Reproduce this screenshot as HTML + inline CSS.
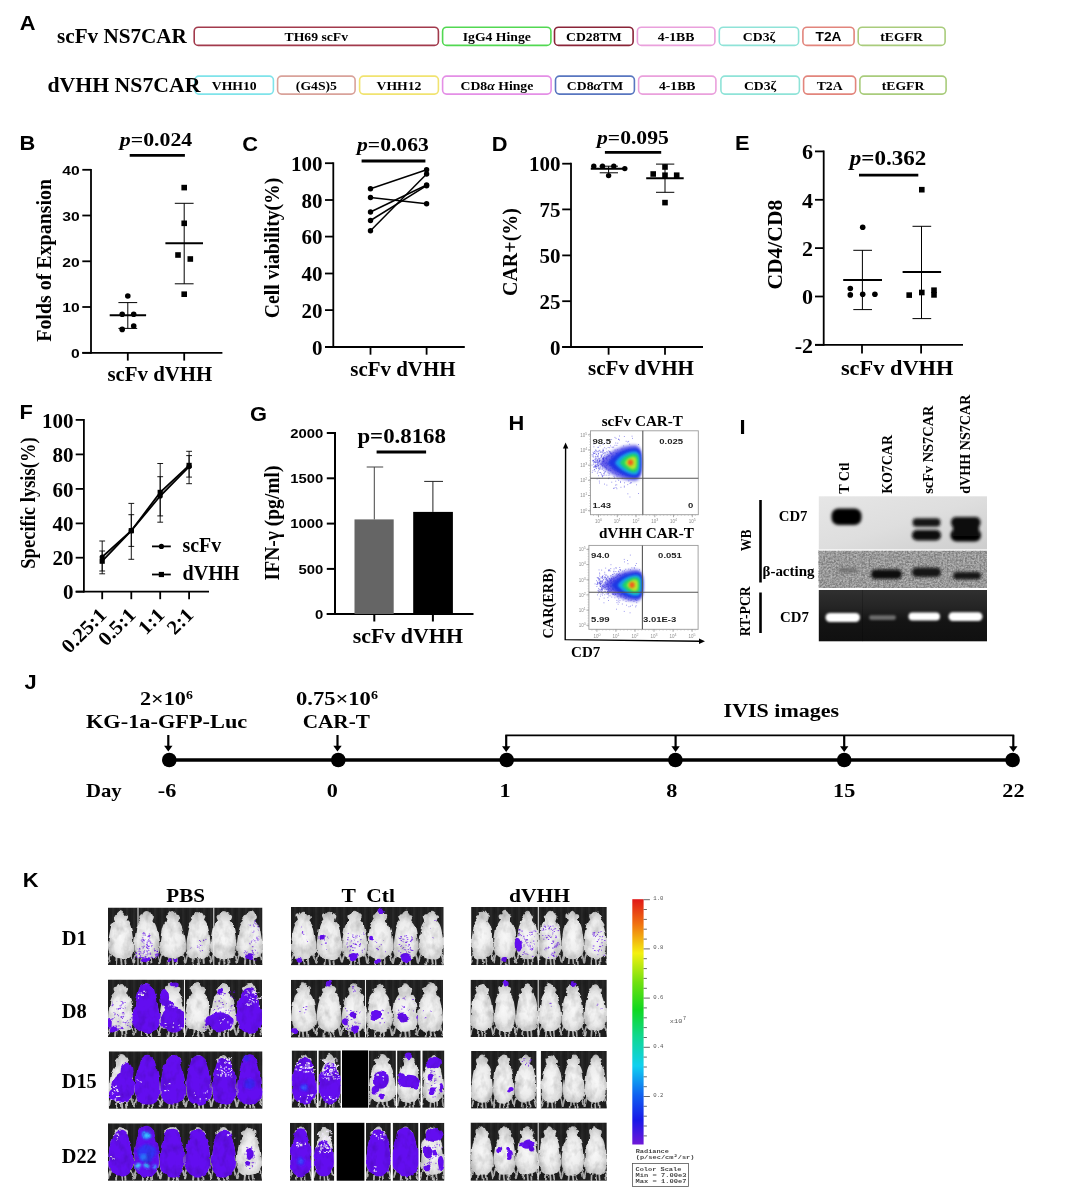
<!DOCTYPE html>
<html lang="en"><head><meta charset="utf-8"><title>Figure</title>
<style>html,body{margin:0;padding:0;background:#fff}svg{display:block}.se{font-family:"Liberation Serif",serif;font-weight:bold}.sa{font-family:"Liberation Sans",sans-serif;font-weight:bold}.mo{font-family:"Liberation Mono",monospace;font-weight:bold}.n{font-weight:normal}</style></head><body>
<svg width="1080" height="1193" viewBox="0 0 1080 1193">
<rect width="1080" height="1193" fill="#fff"/>
<defs>
<filter id="b1" x="-20%" y="-20%" width="140%" height="140%"><feGaussianBlur stdDeviation="0.8"/></filter>
<filter id="b2" x="-30%" y="-30%" width="160%" height="160%"><feGaussianBlur stdDeviation="1.6"/></filter>
<filter id="b3" x="-30%" y="-30%" width="160%" height="160%"><feGaussianBlur stdDeviation="2.6"/></filter>
<filter id="b05" x="-20%" y="-20%" width="140%" height="140%"><feGaussianBlur stdDeviation="0.5"/></filter>
<linearGradient id="cbar" x1="0" y1="0" x2="0" y2="1"><stop offset="0" stop-color="#e01818"/><stop offset="0.10" stop-color="#f07010"/><stop offset="0.22" stop-color="#f4f010"/><stop offset="0.34" stop-color="#70e010"/><stop offset="0.45" stop-color="#10d820"/><stop offset="0.56" stop-color="#10d890"/><stop offset="0.68" stop-color="#10d0f0"/><stop offset="0.80" stop-color="#1060f0"/><stop offset="0.90" stop-color="#1818e8"/><stop offset="1" stop-color="#7018d8"/></linearGradient>
<radialGradient id="mg" cx="0.5" cy="0.55" r="0.62"><stop offset="0" stop-color="#f8f8f8"/><stop offset="0.5" stop-color="#ececec"/><stop offset="0.82" stop-color="#cdcdcd"/><stop offset="1" stop-color="#909090"/></radialGradient>
<g id="mouse"><path d="M3.5 46 C2 49 1 52 0.5 56 M22.5 46 C24 49 25 52 25.5 56 M9 50 L8.3 57.5 M17 50 L17.7 57.5 M13 51 L13.8 58" stroke="#b4b4b4" stroke-width="1.9" fill="none" stroke-linecap="round"/><path d="M13 3.2 C15 3.2 16.6 5 17.4 7 C19.4 6.6 20.8 8.2 20 10.2 C19.6 11.4 19 12.2 18.8 13.2 C21 15 22.8 18.5 23.6 23 C24.6 29 26.1 36 25.7 42 C25.1 47 22 50.6 18.5 51.8 C15.5 52.8 10.5 52.8 7.5 51.8 C4 50.6 0.9 47 0.3 42 C-0.1 36 1.4 29 2.4 23 C3.2 18.5 5 15 7.2 13.2 C7 12.2 6.4 11.4 6 10.2 C5.2 8.2 6.6 6.6 8.6 7 C9.4 5 11 3.2 13 3.2 Z" fill="url(#mg)"/></g>
<filter id="grain" x="0" y="0" width="100%" height="100%"><feTurbulence type="fractalNoise" baseFrequency="0.55" numOctaves="2" seed="3"/><feColorMatrix type="matrix" values="0 0 0 0 0  0 0 0 0 0  0 0 0 0 0  1.6 1.6 0 0 -1.1"/></filter>
<pattern id="cage" width="7" height="60" patternUnits="userSpaceOnUse"><rect width="7" height="60" fill="#202020"/><rect x="0" width="2.2" height="60" fill="#282828"/><rect x="3.6" width="1.2" height="60" fill="#1c1c1c"/></pattern>
<filter id="rough" x="-2%" y="-5%" width="104%" height="110%"><feTurbulence type="fractalNoise" baseFrequency="0.11" numOctaves="2" seed="5" result="t"/><feDisplacementMap in="SourceGraphic" in2="t" scale="4.5" xChannelSelector="R" yChannelSelector="G"/><feGaussianBlur stdDeviation="0.35"/></filter>
<filter id="mottle" x="0" y="0" width="100%" height="100%"><feTurbulence type="fractalNoise" baseFrequency="0.13 0.09" numOctaves="3" seed="9"/><feColorMatrix type="matrix" values="0.7 0 0 0 0.6  0.7 0 0 0 0.6  0.7 0 0 0 0.6  0 0 0 0 1"/></filter>
</defs>
<text class="sa" transform="translate(19.7 30.4) scale(1.040 1)" font-size="21">A</text>
<rect x="194.2" y="27.2" width="244.2" height="18.2" rx="4" fill="#fff" stroke="#a23a4c" stroke-width="1.6"/>
<text class="se" transform="translate(316.3 41.0) scale(1.040 1)" font-size="13.2" text-anchor="middle">TH69 scFv</text>
<rect x="442.6" y="27.2" width="108.3" height="18.2" rx="4" fill="#fff" stroke="#52d852" stroke-width="1.6"/>
<text class="se" transform="translate(496.8 41.0) scale(1.040 1)" font-size="13.2" text-anchor="middle">IgG4 Hinge</text>
<rect x="554.5" y="27.2" width="78.6" height="18.2" rx="4" fill="#fff" stroke="#8a2438" stroke-width="1.6"/>
<text class="se" transform="translate(593.8 41.0) scale(1.040 1)" font-size="13.2" text-anchor="middle">CD28TM</text>
<rect x="637.4" y="27.2" width="77.5" height="18.2" rx="4" fill="#fff" stroke="#eaa0dc" stroke-width="1.6"/>
<text class="se" transform="translate(676.1 41.0) scale(1.040 1)" font-size="13.2" text-anchor="middle">4-1BB</text>
<rect x="719.3" y="27.2" width="79.3" height="18.2" rx="4" fill="#fff" stroke="#8fe3d8" stroke-width="1.6"/>
<text class="se" transform="translate(759.0 41.0) scale(1.040 1)" font-size="13.2" text-anchor="middle">CD3ζ</text>
<rect x="802.9" y="27.2" width="51.2" height="18.2" rx="4" fill="#fff" stroke="#e2857c" stroke-width="1.6"/>
<text class="sa" transform="translate(828.5 41.0) scale(1.040 1)" font-size="13.2" text-anchor="middle">T2A</text>
<rect x="858.2" y="27.2" width="86.9" height="18.2" rx="4" fill="#fff" stroke="#a9cc7c" stroke-width="1.6"/>
<text class="se" transform="translate(901.6 41.0) scale(1.040 1)" font-size="13.2" text-anchor="middle">tEGFR</text>
<rect x="194.9" y="76.1" width="78.5" height="18.0" rx="4" fill="#fff" stroke="#7fe3ea" stroke-width="1.6"/>
<text class="se" transform="translate(234.2 89.8) scale(1.040 1)" font-size="13.2" text-anchor="middle">VHH10</text>
<rect x="277.6" y="76.1" width="77.5" height="18.0" rx="4" fill="#fff" stroke="#d9a29a" stroke-width="1.6"/>
<text class="se" transform="translate(316.4 89.8) scale(1.040 1)" font-size="13.2" text-anchor="middle">(G4S)5</text>
<rect x="359.6" y="76.1" width="78.8" height="18.0" rx="4" fill="#fff" stroke="#f1e370" stroke-width="1.6"/>
<text class="se" transform="translate(399.0 89.8) scale(1.040 1)" font-size="13.2" text-anchor="middle">VHH12</text>
<rect x="442.6" y="76.1" width="108.5" height="18.0" rx="4" fill="#fff" stroke="#e48fe6" stroke-width="1.6"/>
<text class="se" transform="translate(496.9 89.8) scale(1.040 1)" font-size="13.2" text-anchor="middle">CD8<tspan font-style="italic">α</tspan> Hinge</text>
<rect x="555.5" y="76.1" width="78.9" height="18.0" rx="4" fill="#fff" stroke="#5876c0" stroke-width="1.6"/>
<text class="se" transform="translate(595.0 89.8) scale(1.040 1)" font-size="13.2" text-anchor="middle">CD8<tspan font-style="italic">α</tspan>TM</text>
<rect x="638.6" y="76.1" width="77.3" height="18.0" rx="4" fill="#fff" stroke="#eaa0dc" stroke-width="1.6"/>
<text class="se" transform="translate(677.2 89.8) scale(1.040 1)" font-size="13.2" text-anchor="middle">4-1BB</text>
<rect x="720.9" y="76.1" width="78.5" height="18.0" rx="4" fill="#fff" stroke="#8fe3d8" stroke-width="1.6"/>
<text class="se" transform="translate(760.1 89.8) scale(1.040 1)" font-size="13.2" text-anchor="middle">CD3ζ</text>
<rect x="803.6" y="76.1" width="52.0" height="18.0" rx="4" fill="#fff" stroke="#e2857c" stroke-width="1.6"/>
<text class="se" transform="translate(829.6 89.8) scale(1.040 1)" font-size="13.2" text-anchor="middle">T2A</text>
<rect x="859.9" y="76.1" width="86.2" height="18.0" rx="4" fill="#fff" stroke="#a9cc7c" stroke-width="1.6"/>
<text class="se" transform="translate(903.0 89.8) scale(1.040 1)" font-size="13.2" text-anchor="middle">tEGFR</text>
<text class="se" transform="translate(57.0 43.3) scale(1.008 1)" font-size="21">scFv NS7CAR</text>
<text class="se" transform="translate(47.5 92.3) scale(1.037 1)" font-size="21">dVHH NS7CAR</text>
<text class="sa" transform="translate(19.5 150.0) scale(1.040 1)" font-size="21">B</text>
<text class="se" transform="translate(119.8 145.8) scale(1.120 1)" font-size="19.5"><tspan font-style="italic">p</tspan>=0.024</text>
<line x1="129.7" y1="155.4" x2="184.9" y2="155.4" stroke="#000" stroke-width="2.8"/>
<line x1="91.0" y1="168.9" x2="91.0" y2="353.7" stroke="#000" stroke-width="1.8"/>
<line x1="82.3" y1="352.8" x2="222.4" y2="352.8" stroke="#000" stroke-width="1.8"/>
<line x1="82.3" y1="169.8" x2="91.0" y2="169.8" stroke="#000" stroke-width="1.8"/>
<text class="sa" transform="translate(79.6 175.0) scale(1.170 1)" font-size="13.4" text-anchor="end">40</text>
<line x1="82.3" y1="215.5" x2="91.0" y2="215.5" stroke="#000" stroke-width="1.8"/>
<text class="sa" transform="translate(79.6 220.7) scale(1.170 1)" font-size="13.4" text-anchor="end">30</text>
<line x1="82.3" y1="261.3" x2="91.0" y2="261.3" stroke="#000" stroke-width="1.8"/>
<text class="sa" transform="translate(79.6 266.5) scale(1.170 1)" font-size="13.4" text-anchor="end">20</text>
<line x1="82.3" y1="307.0" x2="91.0" y2="307.0" stroke="#000" stroke-width="1.8"/>
<text class="sa" transform="translate(79.6 312.2) scale(1.170 1)" font-size="13.4" text-anchor="end">10</text>
<line x1="82.3" y1="352.8" x2="91.0" y2="352.8" stroke="#000" stroke-width="1.8"/>
<text class="sa" transform="translate(79.6 358.0) scale(1.170 1)" font-size="13.4" text-anchor="end">0</text>
<line x1="127.8" y1="352.8" x2="127.8" y2="360.6" stroke="#000" stroke-width="1.8"/>
<line x1="184.2" y1="352.8" x2="184.2" y2="360.6" stroke="#000" stroke-width="1.8"/>
<text class="se" transform="translate(107.4 381.0) scale(1.044 1)" font-size="20">scFv dVHH</text>
<text class="se" transform="translate(50.5 341.8) rotate(-90) scale(0.950 1)" font-size="21">Folds of Expansion</text>
<circle cx="127.8" cy="296.0" r="2.8" fill="#000"/>
<circle cx="122.2" cy="314.3" r="2.8" fill="#000"/>
<circle cx="133.7" cy="314.3" r="2.8" fill="#000"/>
<circle cx="122.2" cy="329.4" r="2.8" fill="#000"/>
<circle cx="133.7" cy="326.0" r="2.8" fill="#000"/>
<line x1="109.7" y1="315.3" x2="146.1" y2="315.3" stroke="#000" stroke-width="2"/>
<line x1="127.8" y1="302.6" x2="127.8" y2="328.4" stroke="#000" stroke-width="1"/>
<line x1="118.4" y1="302.6" x2="137.2" y2="302.6" stroke="#000" stroke-width="1"/>
<line x1="118.4" y1="328.4" x2="137.2" y2="328.4" stroke="#000" stroke-width="1"/>
<rect x="181.4" y="184.8" width="5.6" height="5.6" fill="#000"/>
<rect x="181.4" y="220.5" width="5.6" height="5.6" fill="#000"/>
<rect x="175.2" y="252.2" width="5.6" height="5.6" fill="#000"/>
<rect x="187.5" y="256.2" width="5.6" height="5.6" fill="#000"/>
<rect x="181.4" y="291.4" width="5.6" height="5.6" fill="#000"/>
<line x1="165.4" y1="243.2" x2="203.0" y2="243.2" stroke="#000" stroke-width="2"/>
<line x1="184.2" y1="203.3" x2="184.2" y2="283.8" stroke="#000" stroke-width="1"/>
<line x1="174.8" y1="203.3" x2="193.6" y2="203.3" stroke="#000" stroke-width="1"/>
<line x1="174.8" y1="283.8" x2="193.6" y2="283.8" stroke="#000" stroke-width="1"/>
<text class="sa" transform="translate(242.2 150.5) scale(1.040 1)" font-size="21">C</text>
<text class="se" transform="translate(357.0 151.0) scale(1.109 1)" font-size="19.5"><tspan font-style="italic">p</tspan>=0.063</text>
<line x1="361.6" y1="161.0" x2="425.4" y2="161.0" stroke="#000" stroke-width="2.8"/>
<line x1="333.3" y1="162.3" x2="333.3" y2="347.9" stroke="#000" stroke-width="1.8"/>
<line x1="325.0" y1="347.0" x2="464.8" y2="347.0" stroke="#000" stroke-width="1.8"/>
<line x1="325.0" y1="163.2" x2="333.3" y2="163.2" stroke="#000" stroke-width="1.8"/>
<text class="se" transform="translate(322.6 170.8) scale(1.050 1)" font-size="20" text-anchor="end">100</text>
<line x1="325.0" y1="200.0" x2="333.3" y2="200.0" stroke="#000" stroke-width="1.8"/>
<text class="se" transform="translate(322.6 207.6) scale(1.050 1)" font-size="20" text-anchor="end">80</text>
<line x1="325.0" y1="236.6" x2="333.3" y2="236.6" stroke="#000" stroke-width="1.8"/>
<text class="se" transform="translate(322.6 244.2) scale(1.050 1)" font-size="20" text-anchor="end">60</text>
<line x1="325.0" y1="273.5" x2="333.3" y2="273.5" stroke="#000" stroke-width="1.8"/>
<text class="se" transform="translate(322.6 281.1) scale(1.050 1)" font-size="20" text-anchor="end">40</text>
<line x1="325.0" y1="310.1" x2="333.3" y2="310.1" stroke="#000" stroke-width="1.8"/>
<text class="se" transform="translate(322.6 317.7) scale(1.050 1)" font-size="20" text-anchor="end">20</text>
<line x1="325.0" y1="347.0" x2="333.3" y2="347.0" stroke="#000" stroke-width="1.8"/>
<text class="se" transform="translate(322.6 354.6) scale(1.050 1)" font-size="20" text-anchor="end">0</text>
<line x1="370.5" y1="347.0" x2="370.5" y2="354.7" stroke="#000" stroke-width="1.8"/>
<line x1="426.6" y1="347.0" x2="426.6" y2="354.7" stroke="#000" stroke-width="1.8"/>
<text class="se" transform="translate(350.3 375.8) scale(1.046 1)" font-size="20">scFv dVHH</text>
<text class="se" transform="translate(279.0 318.3) rotate(-90) scale(0.939 1)" font-size="21">Cell viability(%)</text>
<line x1="370.5" y1="188.8" x2="426.6" y2="169.8" stroke="#000" stroke-width="1.5"/>
<circle cx="370.5" cy="188.8" r="2.7" fill="#000"/>
<circle cx="426.6" cy="169.8" r="2.7" fill="#000"/>
<line x1="370.5" y1="197.5" x2="426.6" y2="203.8" stroke="#000" stroke-width="1.5"/>
<circle cx="370.5" cy="197.5" r="2.7" fill="#000"/>
<circle cx="426.6" cy="203.8" r="2.7" fill="#000"/>
<line x1="370.5" y1="212.0" x2="426.6" y2="185.0" stroke="#000" stroke-width="1.5"/>
<circle cx="370.5" cy="212.0" r="2.7" fill="#000"/>
<circle cx="426.6" cy="185.0" r="2.7" fill="#000"/>
<line x1="370.5" y1="220.5" x2="426.6" y2="185.7" stroke="#000" stroke-width="1.5"/>
<circle cx="370.5" cy="220.5" r="2.7" fill="#000"/>
<circle cx="426.6" cy="185.7" r="2.7" fill="#000"/>
<line x1="370.5" y1="230.8" x2="426.6" y2="174.0" stroke="#000" stroke-width="1.5"/>
<circle cx="370.5" cy="230.8" r="2.7" fill="#000"/>
<circle cx="426.6" cy="174.0" r="2.7" fill="#000"/>
<text class="sa" transform="translate(491.8 150.5) scale(1.040 1)" font-size="21">D</text>
<text class="se" transform="translate(597.0 143.5) scale(1.109 1)" font-size="19.5"><tspan font-style="italic">p</tspan>=0.095</text>
<line x1="604.9" y1="152.4" x2="661.2" y2="152.4" stroke="#000" stroke-width="2.8"/>
<line x1="571.0" y1="162.8" x2="571.0" y2="347.9" stroke="#000" stroke-width="1.8"/>
<line x1="562.2" y1="347.0" x2="703.0" y2="347.0" stroke="#000" stroke-width="1.8"/>
<line x1="562.2" y1="163.7" x2="571.0" y2="163.7" stroke="#000" stroke-width="1.8"/>
<text class="se" transform="translate(560.5 171.3) scale(1.050 1)" font-size="20" text-anchor="end">100</text>
<line x1="562.2" y1="209.4" x2="571.0" y2="209.4" stroke="#000" stroke-width="1.8"/>
<text class="se" transform="translate(560.5 217.0) scale(1.050 1)" font-size="20" text-anchor="end">75</text>
<line x1="562.2" y1="255.4" x2="571.0" y2="255.4" stroke="#000" stroke-width="1.8"/>
<text class="se" transform="translate(560.5 263.0) scale(1.050 1)" font-size="20" text-anchor="end">50</text>
<line x1="562.2" y1="301.2" x2="571.0" y2="301.2" stroke="#000" stroke-width="1.8"/>
<text class="se" transform="translate(560.5 308.8) scale(1.050 1)" font-size="20" text-anchor="end">25</text>
<line x1="562.2" y1="347.0" x2="571.0" y2="347.0" stroke="#000" stroke-width="1.8"/>
<text class="se" transform="translate(560.5 354.6) scale(1.050 1)" font-size="20" text-anchor="end">0</text>
<line x1="608.6" y1="347.0" x2="608.6" y2="354.7" stroke="#000" stroke-width="1.8"/>
<line x1="665.0" y1="347.0" x2="665.0" y2="354.7" stroke="#000" stroke-width="1.8"/>
<text class="se" transform="translate(588.0 375.4) scale(1.054 1)" font-size="20">scFv dVHH</text>
<text class="se" transform="translate(517.0 296.0) rotate(-90) scale(0.952 1)" font-size="21">CAR+(%)</text>
<circle cx="593.8" cy="166.2" r="2.7" fill="#000"/>
<circle cx="602.5" cy="166.2" r="2.7" fill="#000"/>
<circle cx="613.8" cy="166.2" r="2.7" fill="#000"/>
<circle cx="624.8" cy="168.6" r="2.7" fill="#000"/>
<circle cx="608.6" cy="175.6" r="2.7" fill="#000"/>
<line x1="590.8" y1="168.8" x2="626.7" y2="168.8" stroke="#000" stroke-width="2"/>
<line x1="608.6" y1="166.2" x2="608.6" y2="172.8" stroke="#000" stroke-width="1"/>
<line x1="599.7" y1="166.2" x2="618.0" y2="166.2" stroke="#000" stroke-width="1"/>
<line x1="599.7" y1="172.8" x2="618.0" y2="172.8" stroke="#000" stroke-width="1"/>
<rect x="662.2" y="164.2" width="5.6" height="5.6" fill="#000"/>
<rect x="650.4" y="171.2" width="5.6" height="5.6" fill="#000"/>
<rect x="662.2" y="172.4" width="5.6" height="5.6" fill="#000"/>
<rect x="673.9" y="172.4" width="5.6" height="5.6" fill="#000"/>
<rect x="662.2" y="199.8" width="5.6" height="5.6" fill="#000"/>
<line x1="646.2" y1="178.2" x2="683.7" y2="178.2" stroke="#000" stroke-width="2"/>
<line x1="665.0" y1="164.1" x2="665.0" y2="192.3" stroke="#000" stroke-width="1"/>
<line x1="656.0" y1="164.1" x2="674.3" y2="164.1" stroke="#000" stroke-width="1"/>
<line x1="656.0" y1="192.3" x2="674.3" y2="192.3" stroke="#000" stroke-width="1"/>
<text class="sa" transform="translate(735.1 150.2) scale(1.040 1)" font-size="21">E</text>
<text class="se" transform="translate(849.8 165.0) scale(1.123 1)" font-size="20.5"><tspan font-style="italic">p</tspan>=0.362</text>
<line x1="859.0" y1="175.2" x2="918.3" y2="175.2" stroke="#000" stroke-width="2.8"/>
<line x1="823.7" y1="150.5" x2="823.7" y2="345.7" stroke="#000" stroke-width="1.8"/>
<line x1="815.0" y1="344.8" x2="963.0" y2="344.8" stroke="#000" stroke-width="1.8"/>
<line x1="815.0" y1="151.4" x2="823.7" y2="151.4" stroke="#000" stroke-width="1.8"/>
<text class="se" transform="translate(813.0 159.2) scale(1.050 1)" font-size="21" text-anchor="end">6</text>
<line x1="815.0" y1="199.8" x2="823.7" y2="199.8" stroke="#000" stroke-width="1.8"/>
<text class="se" transform="translate(813.0 207.6) scale(1.050 1)" font-size="21" text-anchor="end">4</text>
<line x1="815.0" y1="248.1" x2="823.7" y2="248.1" stroke="#000" stroke-width="1.8"/>
<text class="se" transform="translate(813.0 255.9) scale(1.050 1)" font-size="21" text-anchor="end">2</text>
<line x1="815.0" y1="296.5" x2="823.7" y2="296.5" stroke="#000" stroke-width="1.8"/>
<text class="se" transform="translate(813.0 304.3) scale(1.050 1)" font-size="21" text-anchor="end">0</text>
<line x1="815.0" y1="344.8" x2="823.7" y2="344.8" stroke="#000" stroke-width="1.8"/>
<text class="se" transform="translate(813.0 352.6) scale(1.050 1)" font-size="21" text-anchor="end">-2</text>
<line x1="862.0" y1="344.8" x2="862.0" y2="353.5" stroke="#000" stroke-width="1.8"/>
<line x1="921.1" y1="344.8" x2="921.1" y2="353.5" stroke="#000" stroke-width="1.8"/>
<text class="se" transform="translate(840.9 374.7) scale(1.066 1)" font-size="21">scFv dVHH</text>
<text class="se" transform="translate(781.5 289.5) rotate(-90) scale(0.979 1)" font-size="22">CD4/CD8</text>
<circle cx="862.7" cy="227.3" r="2.8" fill="#000"/>
<circle cx="850.3" cy="288.5" r="2.8" fill="#000"/>
<circle cx="850.3" cy="294.9" r="2.8" fill="#000"/>
<circle cx="862.7" cy="294.2" r="2.8" fill="#000"/>
<circle cx="874.9" cy="294.2" r="2.8" fill="#000"/>
<line x1="843.2" y1="280.0" x2="882.0" y2="280.0" stroke="#000" stroke-width="2"/>
<line x1="862.4" y1="250.3" x2="862.4" y2="309.6" stroke="#000" stroke-width="1"/>
<line x1="853.3" y1="250.3" x2="872.0" y2="250.3" stroke="#000" stroke-width="1"/>
<line x1="853.3" y1="309.6" x2="872.0" y2="309.6" stroke="#000" stroke-width="1"/>
<rect x="919.0" y="186.9" width="5.6" height="5.6" fill="#000"/>
<rect x="906.4" y="292.3" width="5.6" height="5.6" fill="#000"/>
<rect x="919.0" y="289.7" width="5.6" height="5.6" fill="#000"/>
<rect x="931.2" y="287.4" width="5.6" height="5.6" fill="#000"/>
<rect x="931.2" y="292.1" width="5.6" height="5.6" fill="#000"/>
<line x1="902.6" y1="272.1" x2="941.1" y2="272.1" stroke="#000" stroke-width="2"/>
<line x1="921.5" y1="226.3" x2="921.5" y2="318.6" stroke="#000" stroke-width="1"/>
<line x1="912.5" y1="226.3" x2="931.2" y2="226.3" stroke="#000" stroke-width="1"/>
<line x1="912.5" y1="318.6" x2="931.2" y2="318.6" stroke="#000" stroke-width="1"/>
<text class="sa" transform="translate(19.5 419.2) scale(1.040 1)" font-size="21">F</text>
<line x1="83.9" y1="419.0" x2="83.9" y2="592.6" stroke="#000" stroke-width="1.8"/>
<line x1="75.7" y1="591.7" x2="209.0" y2="591.7" stroke="#000" stroke-width="1.8"/>
<line x1="75.7" y1="419.9" x2="83.9" y2="419.9" stroke="#000" stroke-width="1.8"/>
<text class="se" transform="translate(73.4 427.5) scale(1.050 1)" font-size="20" text-anchor="end">100</text>
<line x1="75.7" y1="454.4" x2="83.9" y2="454.4" stroke="#000" stroke-width="1.8"/>
<text class="se" transform="translate(73.4 462.0) scale(1.050 1)" font-size="20" text-anchor="end">80</text>
<line x1="75.7" y1="488.9" x2="83.9" y2="488.9" stroke="#000" stroke-width="1.8"/>
<text class="se" transform="translate(73.4 496.5) scale(1.050 1)" font-size="20" text-anchor="end">60</text>
<line x1="75.7" y1="523.4" x2="83.9" y2="523.4" stroke="#000" stroke-width="1.8"/>
<text class="se" transform="translate(73.4 531.0) scale(1.050 1)" font-size="20" text-anchor="end">40</text>
<line x1="75.7" y1="557.7" x2="83.9" y2="557.7" stroke="#000" stroke-width="1.8"/>
<text class="se" transform="translate(73.4 565.3) scale(1.050 1)" font-size="20" text-anchor="end">20</text>
<line x1="75.7" y1="591.7" x2="83.9" y2="591.7" stroke="#000" stroke-width="1.8"/>
<text class="se" transform="translate(73.4 599.3) scale(1.050 1)" font-size="20" text-anchor="end">0</text>
<line x1="102.2" y1="591.7" x2="102.2" y2="599.2" stroke="#000" stroke-width="1.8"/>
<line x1="131.3" y1="591.7" x2="131.3" y2="599.2" stroke="#000" stroke-width="1.8"/>
<line x1="160.2" y1="591.7" x2="160.2" y2="599.2" stroke="#000" stroke-width="1.8"/>
<line x1="189.1" y1="591.7" x2="189.1" y2="599.2" stroke="#000" stroke-width="1.8"/>
<text class="se" transform="translate(34.5 568.7) rotate(-90) scale(0.884 1)" font-size="21">Specific lysis(%)</text>
<line x1="102.2" y1="541.0" x2="102.2" y2="573.8" stroke="#000" stroke-width="0.9"/>
<line x1="99.3" y1="541.0" x2="105.1" y2="541.0" stroke="#000" stroke-width="0.9"/>
<line x1="99.3" y1="573.8" x2="105.1" y2="573.8" stroke="#000" stroke-width="0.9"/>
<line x1="102.2" y1="551.0" x2="102.2" y2="571.0" stroke="#000" stroke-width="0.9"/>
<line x1="99.3" y1="551.0" x2="105.1" y2="551.0" stroke="#000" stroke-width="0.9"/>
<line x1="99.3" y1="571.0" x2="105.1" y2="571.0" stroke="#000" stroke-width="0.9"/>
<line x1="131.3" y1="503.4" x2="131.3" y2="559.3" stroke="#000" stroke-width="0.9"/>
<line x1="128.4" y1="503.4" x2="134.2" y2="503.4" stroke="#000" stroke-width="0.9"/>
<line x1="128.4" y1="559.3" x2="134.2" y2="559.3" stroke="#000" stroke-width="0.9"/>
<line x1="131.3" y1="514.7" x2="131.3" y2="546.4" stroke="#000" stroke-width="0.9"/>
<line x1="128.4" y1="514.7" x2="134.2" y2="514.7" stroke="#000" stroke-width="0.9"/>
<line x1="128.4" y1="546.4" x2="134.2" y2="546.4" stroke="#000" stroke-width="0.9"/>
<line x1="160.2" y1="463.5" x2="160.2" y2="522.2" stroke="#000" stroke-width="0.9"/>
<line x1="157.3" y1="463.5" x2="163.1" y2="463.5" stroke="#000" stroke-width="0.9"/>
<line x1="157.3" y1="522.2" x2="163.1" y2="522.2" stroke="#000" stroke-width="0.9"/>
<line x1="160.2" y1="476.7" x2="160.2" y2="515.9" stroke="#000" stroke-width="0.9"/>
<line x1="157.3" y1="476.7" x2="163.1" y2="476.7" stroke="#000" stroke-width="0.9"/>
<line x1="157.3" y1="515.9" x2="163.1" y2="515.9" stroke="#000" stroke-width="0.9"/>
<line x1="189.1" y1="451.3" x2="189.1" y2="483.7" stroke="#000" stroke-width="0.9"/>
<line x1="186.2" y1="451.3" x2="192.0" y2="451.3" stroke="#000" stroke-width="0.9"/>
<line x1="186.2" y1="483.7" x2="192.0" y2="483.7" stroke="#000" stroke-width="0.9"/>
<line x1="189.1" y1="455.6" x2="189.1" y2="477.1" stroke="#000" stroke-width="0.9"/>
<line x1="186.2" y1="455.6" x2="192.0" y2="455.6" stroke="#000" stroke-width="0.9"/>
<line x1="186.2" y1="477.1" x2="192.0" y2="477.1" stroke="#000" stroke-width="0.9"/>
<polyline fill="none" stroke="#000" stroke-width="1.8" points="102.2,557.0 131.3,530.7 160.2,496.0 189.1,466.6"/>
<polyline fill="none" stroke="#000" stroke-width="1.8" points="102.2,561.2 131.3,530.7 160.2,492.4 189.1,465.4"/>
<circle cx="102.2" cy="557.0" r="2.6" fill="#000"/>
<circle cx="131.3" cy="530.7" r="2.6" fill="#000"/>
<circle cx="160.2" cy="496.0" r="2.6" fill="#000"/>
<circle cx="189.1" cy="466.6" r="2.6" fill="#000"/>
<rect x="99.6" y="558.6" width="5.2" height="5.2" fill="#000"/>
<rect x="128.7" y="528.1" width="5.2" height="5.2" fill="#000"/>
<rect x="157.6" y="489.8" width="5.2" height="5.2" fill="#000"/>
<rect x="186.5" y="462.8" width="5.2" height="5.2" fill="#000"/>
<line x1="152.0" y1="546.4" x2="170.8" y2="546.4" stroke="#000" stroke-width="1.8"/>
<circle cx="161.4" cy="546.4" r="2.6" fill="#000"/>
<text class="se" transform="translate(182.5 551.8) scale(0.995 1)" font-size="20">scFv</text>
<line x1="152.0" y1="574.5" x2="170.8" y2="574.5" stroke="#000" stroke-width="1.8"/>
<rect x="158.8" y="571.9" width="5.2" height="5.2" fill="#000"/>
<text class="se" transform="translate(182.5 580.4) scale(1.006 1)" font-size="20">dVHH</text>
<text class="se" transform="translate(107.7 616.0) rotate(-45) scale(1.050 1)" font-size="20" text-anchor="end">0.25:1</text>
<text class="se" transform="translate(136.8 616.0) rotate(-45) scale(1.050 1)" font-size="20" text-anchor="end">0.5:1</text>
<text class="se" transform="translate(165.7 616.0) rotate(-45) scale(1.050 1)" font-size="20" text-anchor="end">1:1</text>
<text class="se" transform="translate(194.6 616.0) rotate(-45) scale(1.050 1)" font-size="20" text-anchor="end">2:1</text>
<text class="sa" transform="translate(250.0 420.5) scale(1.040 1)" font-size="21">G</text>
<text class="se" transform="translate(357.4 443.1) scale(1.143 1)" font-size="20">p=0.8168</text>
<line x1="376.6" y1="452.0" x2="426.1" y2="452.0" stroke="#000" stroke-width="2.8"/>
<line x1="335.0" y1="432.0" x2="335.0" y2="615.0" stroke="#000" stroke-width="2"/>
<line x1="326.8" y1="614.0" x2="473.5" y2="614.0" stroke="#000" stroke-width="2"/>
<line x1="326.8" y1="433.0" x2="335.0" y2="433.0" stroke="#000" stroke-width="2"/>
<text class="sa" transform="translate(323.3 437.8) scale(1.180 1)" font-size="12.6" text-anchor="end">2000</text>
<line x1="326.8" y1="478.3" x2="335.0" y2="478.3" stroke="#000" stroke-width="2"/>
<text class="sa" transform="translate(323.3 483.1) scale(1.180 1)" font-size="12.6" text-anchor="end">1500</text>
<line x1="326.8" y1="523.6" x2="335.0" y2="523.6" stroke="#000" stroke-width="2"/>
<text class="sa" transform="translate(323.3 528.4) scale(1.180 1)" font-size="12.6" text-anchor="end">1000</text>
<line x1="326.8" y1="568.9" x2="335.0" y2="568.9" stroke="#000" stroke-width="2"/>
<text class="sa" transform="translate(323.3 573.7) scale(1.180 1)" font-size="12.6" text-anchor="end">500</text>
<line x1="326.8" y1="614.0" x2="335.0" y2="614.0" stroke="#000" stroke-width="2"/>
<text class="sa" transform="translate(323.3 618.8) scale(1.180 1)" font-size="12.6" text-anchor="end">0</text>
<line x1="374.3" y1="614.0" x2="374.3" y2="621.5" stroke="#000" stroke-width="2"/>
<line x1="432.9" y1="614.0" x2="432.9" y2="621.5" stroke="#000" stroke-width="2"/>
<text class="se" transform="translate(352.7 642.6) scale(1.045 1)" font-size="21">scFv dVHH</text>
<text class="se" transform="translate(279.0 580.4) rotate(-90) scale(0.888 1)" font-size="22">IFN-γ (pg/ml)</text>
<rect x="354.5" y="519.4" width="39.2" height="94.6" fill="#656565"/>
<rect x="413.2" y="511.9" width="39.7" height="102.1" fill="#000"/>
<line x1="374.3" y1="467.0" x2="374.3" y2="519.4" stroke="#444" stroke-width="1"/>
<line x1="366.7" y1="467.0" x2="383.2" y2="467.0" stroke="#444" stroke-width="1"/>
<line x1="432.9" y1="481.4" x2="432.9" y2="511.9" stroke="#222" stroke-width="1"/>
<line x1="424.2" y1="481.4" x2="443.0" y2="481.4" stroke="#222" stroke-width="1"/>
<text class="sa" transform="translate(508.4 429.6) scale(1.040 1)" font-size="21">H</text>
<text class="se" transform="translate(601.7 426.3) scale(0.979 1)" font-size="15.5">scFv CAR-T</text>
<rect x="590.5" y="430.8" width="107.8" height="83.9" fill="#fff" stroke="#9a9a9a" stroke-width="0.9"/>
<path d="M616.4 474.8h.9M627.9 460.6h.9M630.1 463.3h.9M611.1 464.0h.9M611.2 457.8h.9M617.3 443.2h.9M601.9 476.3h.9M632.3 455.0h.9M625.2 470.0h.9M598.2 470.2h.9M601.8 469.3h.9M631.0 466.7h.9M600.5 464.7h.9M603.7 464.0h.9M597.7 456.0h.9M602.3 459.0h.9M599.1 483.0h.9M623.8 473.3h.9M623.4 463.3h.9M602.3 451.0h.9M594.7 471.3h.9M603.2 457.2h.9M598.3 458.5h.9M604.4 466.4h.9M605.6 461.0h.9M615.2 473.1h.9M633.3 465.7h.9M628.4 470.8h.9M625.2 475.2h.9M597.2 465.0h.9M608.2 450.9h.9M595.7 468.6h.9M616.4 445.4h.9M624.4 470.8h.9M617.4 464.2h.9M619.5 462.9h.9M609.8 452.2h.9M599.3 460.5h.9M604.9 467.5h.9M600.4 451.8h.9M611.6 465.0h.9M603.8 462.9h.9M621.4 471.7h.9M631.8 463.5h.9M626.9 465.4h.9M595.0 458.6h.9M617.6 471.3h.9M608.6 462.5h.9M626.4 471.4h.9M597.2 462.7h.9M592.6 460.4h.9M608.2 463.8h.9M594.1 453.3h.9M617.4 467.6h.9M596.2 458.7h.9M615.3 481.2h.9M594.1 451.5h.9M597.3 456.0h.9M607.1 463.7h.9M633.3 474.0h.9M602.9 459.2h.9M597.5 459.8h.9M613.5 469.5h.9M621.9 478.3h.9M595.8 454.5h.9M602.8 458.3h.9M604.6 453.9h.9M598.5 462.1h.9M596.9 473.2h.9M591.6 465.1h.9M593.4 457.0h.9M627.3 484.6h.9M599.4 472.5h.9M591.8 455.9h.9M606.4 463.0h.9M591.7 454.5h.9M597.4 466.8h.9M616.6 476.7h.9M617.4 465.5h.9M593.6 467.3h.9M606.3 456.7h.9M592.5 461.1h.9M608.7 463.1h.9M624.7 463.4h.9M620.3 466.1h.9M605.1 471.4h.9M606.1 457.8h.9M605.8 469.0h.9M596.8 461.0h.9M600.5 457.1h.9M602.2 461.4h.9M599.5 464.5h.9M611.0 456.9h.9M596.7 459.3h.9M608.5 456.0h.9M625.9 472.1h.9M629.3 468.4h.9M602.7 444.5h.9M623.2 445.9h.9M627.3 442.0h.9M621.5 459.4h.9M611.3 460.9h.9M621.6 468.9h.9M614.9 470.9h.9M602.2 462.8h.9M611.6 463.1h.9M603.0 461.5h.9M593.4 444.0h.9M626.8 466.7h.9M598.4 465.4h.9M613.3 452.7h.9M620.1 482.5h.9M605.2 458.2h.9M629.9 450.7h.9M631.2 456.5h.9M600.4 468.8h.9M630.8 452.6h.9M611.2 454.7h.9M618.9 472.3h.9M619.8 466.9h.9M631.6 474.4h.9M616.0 453.8h.9M608.6 469.7h.9M634.8 466.2h.9M599.1 459.9h.9M609.6 460.3h.9M595.7 464.9h.9M595.4 466.7h.9M602.8 460.8h.9M596.3 451.3h.9M611.4 465.0h.9M627.4 471.7h.9M618.6 466.6h.9M598.2 453.4h.9M617.1 471.5h.9M610.4 470.7h.9M621.8 455.7h.9M606.4 485.1h.9M615.7 462.9h.9M610.9 464.2h.9M620.9 462.8h.9M619.1 468.5h.9M633.3 465.2h.9M617.8 455.7h.9M598.1 451.2h.9M594.5 465.3h.9M593.9 469.5h.9M605.7 466.0h.9M593.4 453.0h.9M598.7 468.3h.9M609.2 447.7h.9M594.3 453.5h.9M601.2 456.1h.9M634.1 473.1h.9M627.8 449.6h.9M601.9 452.6h.9M611.1 462.4h.9M597.6 461.3h.9M604.6 467.1h.9M619.5 466.6h.9M600.8 473.9h.9M607.7 447.5h.9M603.4 459.1h.9M624.0 482.8h.9M615.8 461.8h.9M630.0 482.7h.9M600.7 455.6h.9M605.7 464.2h.9M626.7 458.1h.9M592.9 460.6h.9M611.2 439.6h.9M609.8 468.7h.9M594.0 469.8h.9M620.8 458.6h.9M625.8 450.0h.9M595.0 456.3h.9M594.6 461.3h.9M635.8 464.7h.9M617.0 470.1h.9M615.5 462.0h.9M599.8 458.1h.9M593.4 446.8h.9M615.6 470.3h.9M610.7 465.2h.9M627.7 454.4h.9M593.8 466.5h.9M608.1 470.2h.9M595.3 452.9h.9M606.4 451.4h.9M606.1 459.1h.9M597.6 465.5h.9M602.8 464.3h.9M595.3 466.7h.9M613.5 478.5h.9M592.5 470.7h.9M614.7 458.8h.9M623.5 469.8h.9M593.6 461.3h.9M596.3 461.0h.9M624.8 468.0h.9M615.2 466.5h.9M615.3 453.0h.9M598.1 465.7h.9M606.1 467.7h.9M629.5 497.0h.9M623.3 462.8h.9M596.2 466.8h.9M617.3 469.8h.9M595.1 450.0h.9M636.6 468.0h.9M593.0 462.8h.9M636.1 484.8h.9M599.6 445.8h.9M619.3 466.7h.9M605.7 442.3h.9M598.8 450.8h.9M609.2 461.3h.9M598.8 478.4h.9M602.6 465.8h.9M616.9 449.8h.9M628.0 469.6h.9M604.2 465.8h.9M605.6 462.3h.9M611.6 458.6h.9M594.3 462.0h.9M621.0 458.5h.9M617.6 464.2h.9M600.9 464.7h.9M603.1 459.0h.9M632.0 475.6h.9M602.5 475.4h.9M598.8 461.3h.9M591.8 472.4h.9M620.0 481.4h.9M618.1 458.8h.9M622.1 474.8h.9M603.0 460.2h.9M613.1 488.4h.9M624.9 464.4h.9M614.6 450.0h.9M603.5 461.2h.9M616.3 484.8h.9M601.7 463.8h.9M611.8 468.7h.9M624.0 463.1h.9M614.6 460.9h.9M593.4 467.1h.9M597.9 454.3h.9M629.9 465.6h.9M594.8 467.3h.9M596.5 462.6h.9M597.6 459.2h.9M635.8 475.2h.9M618.1 439.2h.9M613.9 488.1h.9M603.6 475.2h.9M615.4 463.4h.9M601.1 456.0h.9M594.7 461.9h.9M612.5 455.8h.9M612.4 472.9h.9M609.1 459.5h.9M597.6 447.5h.9M597.7 457.2h.9M613.6 476.4h.9M629.6 483.5h.9M619.0 463.8h.9M604.1 484.1h.9M596.5 460.8h.9M629.8 471.8h.9M599.7 463.5h.9M609.6 452.2h.9M600.8 452.1h.9M626.4 454.6h.9M603.9 472.2h.9M621.2 471.5h.9M625.2 452.6h.9M611.3 482.2h.9M608.0 478.6h.9M603.3 461.5h.9M610.1 445.8h.9M595.7 462.6h.9M627.4 493.8h.9M606.3 458.3h.9M594.8 463.0h.9M599.2 460.2h.9M603.8 457.7h.9M613.8 467.6h.9M616.5 453.4h.9M622.3 463.6h.9M602.3 468.1h.9M621.5 449.0h.9M631.2 471.2h.9M605.7 458.9h.9M622.6 451.6h.9M615.6 487.5h.9M614.3 458.5h.9M614.5 437.4h.9M614.2 477.8h.9M624.1 463.8h.9M611.6 453.2h.9M594.5 462.2h.9M633.2 457.4h.9M596.4 466.3h.9M612.2 462.2h.9M613.6 459.3h.9M623.9 464.5h.9M593.2 464.3h.9M595.3 459.9h.9M632.2 457.7h.9M592.7 452.3h.9M623.6 454.8h.9M613.3 447.0h.9M622.3 474.4h.9M606.8 465.1h.9M618.2 439.4h.9M629.7 455.0h.9M632.8 457.9h.9M602.4 458.1h.9M614.2 469.2h.9M610.0 453.3h.9M612.4 464.1h.9M608.6 477.8h.9M597.6 462.7h.9M609.6 465.2h.9M612.0 467.9h.9M609.7 465.3h.9M628.2 441.4h.9M609.2 465.6h.9M613.6 460.7h.9M598.6 461.0h.9M598.9 481.1h.9M611.5 456.5h.9M623.9 436.5h.9M628.3 480.9h.9M624.4 457.3h.9M598.5 468.2h.9M594.6 466.3h.9M607.6 464.3h.9M623.9 486.1h.9M602.4 458.6h.9M599.7 467.6h.9M601.2 474.9h.9M603.3 453.0h.9M629.0 462.5h.9M612.5 454.8h.9M598.1 463.1h.9M602.3 465.8h.9M615.6 438.4h.9M604.2 455.4h.9M638.8 465.6h.9M602.2 466.0h.9M595.7 464.9h.9M602.7 461.8h.9M614.9 468.3h.9M618.1 455.3h.9M619.7 453.7h.9M625.9 459.6h.9M625.7 472.7h.9M596.0 454.2h.9M620.0 463.8h.9M604.5 472.2h.9M612.4 456.2h.9M619.0 460.8h.9M605.9 465.6h.9M630.5 461.4h.9M606.9 460.1h.9M619.7 454.3h.9M603.3 456.9h.9M615.6 465.7h.9M595.7 450.3h.9M638.1 444.5h.9M609.2 451.8h.9M620.6 467.8h.9M631.0 482.7h.9M602.5 451.1h.9M616.3 458.8h.9M597.1 460.5h.9M604.0 460.4h.9M596.6 461.7h.9M619.1 436.0h.9M598.1 475.7h.9M615.1 485.1h.9M602.6 450.0h.9M602.1 454.8h.9M599.1 458.6h.9M620.0 459.6h.9M594.8 462.4h.9M628.0 458.3h.9M624.9 463.7h.9M599.8 452.3h.9M601.7 465.7h.9M614.5 445.3h.9M597.9 466.9h.9M595.1 460.0h.9M621.1 464.8h.9M597.2 451.8h.9M596.3 456.9h.9M629.3 475.4h.9M620.2 473.7h.9M634.3 474.9h.9M599.7 466.7h.9M605.3 463.4h.9M610.6 453.4h.9M599.9 460.2h.9M598.3 468.4h.9M623.8 463.0h.9M599.2 461.4h.9M605.7 462.9h.9M620.6 463.3h.9M596.7 478.9h.9M617.4 478.8h.9M609.7 470.4h.9M629.2 444.2h.9M597.3 456.3h.9M609.3 475.0h.9M628.5 461.5h.9M620.5 487.3h.9M605.7 475.2h.9M617.6 466.1h.9M599.4 450.3h.9M613.6 467.7h.9M595.3 451.1h.9M620.4 470.6h.9M606.3 468.8h.9M595.4 465.8h.9M615.3 443.0h.9M624.3 470.5h.9M614.1 461.6h.9M616.4 488.7h.9M603.2 473.6h.9M623.9 487.1h.9M597.9 453.4h.9M620.8 458.7h.9M620.5 464.8h.9M612.5 447.6h.9M606.8 454.4h.9M623.2 455.6h.9M601.1 457.0h.9M605.3 452.7h.9M619.1 440.0h.9M597.8 447.2h.9M600.7 454.7h.9M615.1 459.1h.9M611.6 447.1h.9M603.4 470.6h.9M608.6 455.4h.9M602.7 459.4h.9M602.8 453.6h.9M608.8 461.6h.9M607.8 475.2h.9M593.0 460.7h.9M603.0 458.3h.9M605.7 448.8h.9M604.1 473.8h.9M620.0 452.4h.9M602.2 476.9h.9M614.9 465.2h.9M613.4 463.1h.9M610.6 453.6h.9M618.2 480.3h.9M592.7 460.3h.9M597.0 464.6h.9M625.7 441.3h.9M601.3 463.8h.9M621.1 460.4h.9M604.2 447.7h.9M608.7 473.5h.9M626.2 453.3h.9M596.2 468.3h.9M617.5 465.8h.9M637.4 452.5h.9M618.2 474.7h.9M609.3 451.4h.9M616.1 453.7h.9M632.1 438.4h.9M600.2 472.5h.9M603.5 461.8h.9M592.7 456.8h.9M627.8 470.3h.9M598.1 465.0h.9M595.0 457.1h.9M593.1 453.5h.9M604.2 452.7h.9M597.5 471.9h.9M606.8 452.3h.9M594.3 459.3h.9M620.4 472.7h.9M629.6 464.9h.9M606.4 462.2h.9M598.9 461.8h.9M607.1 456.8h.9M595.5 466.7h.9M595.0 465.4h.9M605.2 463.8h.9M602.8 458.6h.9M597.3 463.5h.9M602.0 476.0h.9M611.5 464.3h.9M599.2 469.4h.9M608.3 456.1h.9M617.2 453.0h.9M607.6 472.8h.9M614.3 470.4h.9M603.1 450.4h.9M631.6 436.2h.9M607.5 464.2h.9M638.0 493.5h.9M602.7 449.1h.9M593.0 455.0h.9M602.8 451.0h.9" stroke="#3b34e0" stroke-width="0.9" opacity="0.6" fill="none"/>
<path d="M599.0 463.0 C605.8 452.4 621.5 445.0 634.5 445.0 C641.0 445.0 641.5 453.2 641.5 462.5 C641.5 471.6 641.0 481.0 634.5 481.0 C621.5 481.0 605.8 472.5 599.0 463.0 Z" fill="#3a36e2" filter="url(#b2)" opacity="0.75"/>
<path d="M607.7 463.0 C612.7 454.1 625.7 448.1 635.0 448.1 C641.5 448.1 641.7 454.8 641.7 462.5 C641.7 469.9 641.5 477.9 635.0 477.9 C625.7 477.9 612.7 470.6 607.7 463.0 Z" fill="#1f35e4" filter="url(#b1)" opacity="0.95"/>
<path d="M615.0 463.0 C618.4 455.8 628.2 451.3 634.4 451.3 C640.0 451.3 640.1 456.4 640.1 462.5 C640.1 468.2 640.0 474.7 634.4 474.7 C628.2 474.7 618.4 468.7 615.0 463.0 Z" fill="#169fea" filter="url(#b1)" opacity="1"/>
<path d="M619.9 463.0 C622.2 457.2 629.7 453.8 633.7 453.8 C638.4 453.8 638.5 457.6 638.5 462.5 C638.5 466.8 638.4 472.2 633.7 472.2 C629.7 472.2 622.2 467.2 619.9 463.0 Z" fill="#20d468" filter="url(#b1)" opacity="1"/>
<path d="M624.9 463.0 C626.2 458.8 631.0 456.7 633.0 456.7 C636.5 456.7 636.5 459.1 636.5 462.5 C636.5 465.2 636.5 469.3 633.0 469.3 C631.0 469.3 626.2 465.5 624.9 463.0 Z" fill="#b8e62a" filter="url(#b1)" opacity="1"/>
<ellipse cx="630.5" cy="462.5" rx="2.7" ry="3" fill="#f0601c" filter="url(#b1)"/>
<line x1="642.8" y1="430.8" x2="642.8" y2="514.7" stroke="#555" stroke-width="1.1"/>
<line x1="590.5" y1="478.3" x2="698.3" y2="478.3" stroke="#555" stroke-width="1.1"/>
<line x1="588.0" y1="434.8" x2="590.5" y2="434.8" stroke="#888" stroke-width="0.7"/>
<text class="sa n" transform="translate(587.3 436.6)" font-size="4.5" text-anchor="end" fill="#8f8f8f">10<tspan dy="-2" font-size="3.6">5</tspan></text>
<line x1="598.5" y1="514.7" x2="598.5" y2="517.2" stroke="#888" stroke-width="0.7"/>
<text class="sa n" transform="translate(598.5 523.0)" font-size="4.5" text-anchor="middle" fill="#8f8f8f">10<tspan dy="-2" font-size="3.6">0</tspan></text>
<line x1="588.0" y1="450.0" x2="590.5" y2="450.0" stroke="#888" stroke-width="0.7"/>
<text class="sa n" transform="translate(587.3 451.8)" font-size="4.5" text-anchor="end" fill="#8f8f8f">10<tspan dy="-2" font-size="3.6">4</tspan></text>
<line x1="617.3" y1="514.7" x2="617.3" y2="517.2" stroke="#888" stroke-width="0.7"/>
<text class="sa n" transform="translate(617.3 523.0)" font-size="4.5" text-anchor="middle" fill="#8f8f8f">10<tspan dy="-2" font-size="3.6">1</tspan></text>
<line x1="588.0" y1="465.2" x2="590.5" y2="465.2" stroke="#888" stroke-width="0.7"/>
<text class="sa n" transform="translate(587.3 467.0)" font-size="4.5" text-anchor="end" fill="#8f8f8f">10<tspan dy="-2" font-size="3.6">3</tspan></text>
<line x1="636.0" y1="514.7" x2="636.0" y2="517.2" stroke="#888" stroke-width="0.7"/>
<text class="sa n" transform="translate(636.0 523.0)" font-size="4.5" text-anchor="middle" fill="#8f8f8f">10<tspan dy="-2" font-size="3.6">2</tspan></text>
<line x1="588.0" y1="480.3" x2="590.5" y2="480.3" stroke="#888" stroke-width="0.7"/>
<text class="sa n" transform="translate(587.3 482.1)" font-size="4.5" text-anchor="end" fill="#8f8f8f">10<tspan dy="-2" font-size="3.6">2</tspan></text>
<line x1="654.8" y1="514.7" x2="654.8" y2="517.2" stroke="#888" stroke-width="0.7"/>
<text class="sa n" transform="translate(654.8 523.0)" font-size="4.5" text-anchor="middle" fill="#8f8f8f">10<tspan dy="-2" font-size="3.6">3</tspan></text>
<line x1="588.0" y1="495.5" x2="590.5" y2="495.5" stroke="#888" stroke-width="0.7"/>
<text class="sa n" transform="translate(587.3 497.3)" font-size="4.5" text-anchor="end" fill="#8f8f8f">10<tspan dy="-2" font-size="3.6">1</tspan></text>
<line x1="673.5" y1="514.7" x2="673.5" y2="517.2" stroke="#888" stroke-width="0.7"/>
<text class="sa n" transform="translate(673.5 523.0)" font-size="4.5" text-anchor="middle" fill="#8f8f8f">10<tspan dy="-2" font-size="3.6">4</tspan></text>
<line x1="588.0" y1="510.7" x2="590.5" y2="510.7" stroke="#888" stroke-width="0.7"/>
<text class="sa n" transform="translate(587.3 512.5)" font-size="4.5" text-anchor="end" fill="#8f8f8f">10<tspan dy="-2" font-size="3.6">0</tspan></text>
<line x1="692.3" y1="514.7" x2="692.3" y2="517.2" stroke="#888" stroke-width="0.7"/>
<text class="sa n" transform="translate(692.3 523.0)" font-size="4.5" text-anchor="middle" fill="#8f8f8f">10<tspan dy="-2" font-size="3.6">5</tspan></text>
<line x1="589.2" y1="433.8" x2="590.5" y2="433.8" stroke="#aaa" stroke-width="0.5"/>
<line x1="593.5" y1="514.7" x2="593.5" y2="516.0" stroke="#aaa" stroke-width="0.5"/>
<line x1="589.2" y1="436.5" x2="590.5" y2="436.5" stroke="#aaa" stroke-width="0.5"/>
<line x1="597.0" y1="514.7" x2="597.0" y2="516.0" stroke="#aaa" stroke-width="0.5"/>
<line x1="589.2" y1="439.2" x2="590.5" y2="439.2" stroke="#aaa" stroke-width="0.5"/>
<line x1="600.5" y1="514.7" x2="600.5" y2="516.0" stroke="#aaa" stroke-width="0.5"/>
<line x1="589.2" y1="441.9" x2="590.5" y2="441.9" stroke="#aaa" stroke-width="0.5"/>
<line x1="604.0" y1="514.7" x2="604.0" y2="516.0" stroke="#aaa" stroke-width="0.5"/>
<line x1="589.2" y1="444.5" x2="590.5" y2="444.5" stroke="#aaa" stroke-width="0.5"/>
<line x1="607.5" y1="514.7" x2="607.5" y2="516.0" stroke="#aaa" stroke-width="0.5"/>
<line x1="589.2" y1="447.2" x2="590.5" y2="447.2" stroke="#aaa" stroke-width="0.5"/>
<line x1="611.1" y1="514.7" x2="611.1" y2="516.0" stroke="#aaa" stroke-width="0.5"/>
<line x1="589.2" y1="449.9" x2="590.5" y2="449.9" stroke="#aaa" stroke-width="0.5"/>
<line x1="614.6" y1="514.7" x2="614.6" y2="516.0" stroke="#aaa" stroke-width="0.5"/>
<line x1="589.2" y1="452.6" x2="590.5" y2="452.6" stroke="#aaa" stroke-width="0.5"/>
<line x1="618.1" y1="514.7" x2="618.1" y2="516.0" stroke="#aaa" stroke-width="0.5"/>
<line x1="589.2" y1="455.3" x2="590.5" y2="455.3" stroke="#aaa" stroke-width="0.5"/>
<line x1="621.6" y1="514.7" x2="621.6" y2="516.0" stroke="#aaa" stroke-width="0.5"/>
<line x1="589.2" y1="458.0" x2="590.5" y2="458.0" stroke="#aaa" stroke-width="0.5"/>
<line x1="625.1" y1="514.7" x2="625.1" y2="516.0" stroke="#aaa" stroke-width="0.5"/>
<line x1="589.2" y1="460.7" x2="590.5" y2="460.7" stroke="#aaa" stroke-width="0.5"/>
<line x1="628.6" y1="514.7" x2="628.6" y2="516.0" stroke="#aaa" stroke-width="0.5"/>
<line x1="589.2" y1="463.3" x2="590.5" y2="463.3" stroke="#aaa" stroke-width="0.5"/>
<line x1="632.1" y1="514.7" x2="632.1" y2="516.0" stroke="#aaa" stroke-width="0.5"/>
<line x1="589.2" y1="466.0" x2="590.5" y2="466.0" stroke="#aaa" stroke-width="0.5"/>
<line x1="635.6" y1="514.7" x2="635.6" y2="516.0" stroke="#aaa" stroke-width="0.5"/>
<line x1="589.2" y1="468.7" x2="590.5" y2="468.7" stroke="#aaa" stroke-width="0.5"/>
<line x1="639.1" y1="514.7" x2="639.1" y2="516.0" stroke="#aaa" stroke-width="0.5"/>
<line x1="589.2" y1="471.4" x2="590.5" y2="471.4" stroke="#aaa" stroke-width="0.5"/>
<line x1="642.6" y1="514.7" x2="642.6" y2="516.0" stroke="#aaa" stroke-width="0.5"/>
<line x1="589.2" y1="474.1" x2="590.5" y2="474.1" stroke="#aaa" stroke-width="0.5"/>
<line x1="646.2" y1="514.7" x2="646.2" y2="516.0" stroke="#aaa" stroke-width="0.5"/>
<line x1="589.2" y1="476.8" x2="590.5" y2="476.8" stroke="#aaa" stroke-width="0.5"/>
<line x1="649.7" y1="514.7" x2="649.7" y2="516.0" stroke="#aaa" stroke-width="0.5"/>
<line x1="589.2" y1="479.5" x2="590.5" y2="479.5" stroke="#aaa" stroke-width="0.5"/>
<line x1="653.2" y1="514.7" x2="653.2" y2="516.0" stroke="#aaa" stroke-width="0.5"/>
<line x1="589.2" y1="482.2" x2="590.5" y2="482.2" stroke="#aaa" stroke-width="0.5"/>
<line x1="656.7" y1="514.7" x2="656.7" y2="516.0" stroke="#aaa" stroke-width="0.5"/>
<line x1="589.2" y1="484.8" x2="590.5" y2="484.8" stroke="#aaa" stroke-width="0.5"/>
<line x1="660.2" y1="514.7" x2="660.2" y2="516.0" stroke="#aaa" stroke-width="0.5"/>
<line x1="589.2" y1="487.5" x2="590.5" y2="487.5" stroke="#aaa" stroke-width="0.5"/>
<line x1="663.7" y1="514.7" x2="663.7" y2="516.0" stroke="#aaa" stroke-width="0.5"/>
<line x1="589.2" y1="490.2" x2="590.5" y2="490.2" stroke="#aaa" stroke-width="0.5"/>
<line x1="667.2" y1="514.7" x2="667.2" y2="516.0" stroke="#aaa" stroke-width="0.5"/>
<line x1="589.2" y1="492.9" x2="590.5" y2="492.9" stroke="#aaa" stroke-width="0.5"/>
<line x1="670.7" y1="514.7" x2="670.7" y2="516.0" stroke="#aaa" stroke-width="0.5"/>
<line x1="589.2" y1="495.6" x2="590.5" y2="495.6" stroke="#aaa" stroke-width="0.5"/>
<line x1="674.2" y1="514.7" x2="674.2" y2="516.0" stroke="#aaa" stroke-width="0.5"/>
<line x1="589.2" y1="498.3" x2="590.5" y2="498.3" stroke="#aaa" stroke-width="0.5"/>
<line x1="677.7" y1="514.7" x2="677.7" y2="516.0" stroke="#aaa" stroke-width="0.5"/>
<line x1="589.2" y1="501.0" x2="590.5" y2="501.0" stroke="#aaa" stroke-width="0.5"/>
<line x1="681.3" y1="514.7" x2="681.3" y2="516.0" stroke="#aaa" stroke-width="0.5"/>
<line x1="589.2" y1="503.6" x2="590.5" y2="503.6" stroke="#aaa" stroke-width="0.5"/>
<line x1="684.8" y1="514.7" x2="684.8" y2="516.0" stroke="#aaa" stroke-width="0.5"/>
<line x1="589.2" y1="506.3" x2="590.5" y2="506.3" stroke="#aaa" stroke-width="0.5"/>
<line x1="688.3" y1="514.7" x2="688.3" y2="516.0" stroke="#aaa" stroke-width="0.5"/>
<line x1="589.2" y1="509.0" x2="590.5" y2="509.0" stroke="#aaa" stroke-width="0.5"/>
<line x1="691.8" y1="514.7" x2="691.8" y2="516.0" stroke="#aaa" stroke-width="0.5"/>
<line x1="589.2" y1="511.7" x2="590.5" y2="511.7" stroke="#aaa" stroke-width="0.5"/>
<line x1="695.3" y1="514.7" x2="695.3" y2="516.0" stroke="#aaa" stroke-width="0.5"/>
<text class="sa" transform="translate(592.5 443.7) scale(1.270 1)" font-size="7.5" fill="#222">98.5</text>
<text class="sa" transform="translate(659.2 443.7) scale(1.270 1)" font-size="7.5" fill="#222">0.025</text>
<text class="sa" transform="translate(592.5 507.5) scale(1.270 1)" font-size="7.5" fill="#222">1.43</text>
<text class="sa" transform="translate(693.2 507.5) scale(1.270 1)" font-size="7.5" text-anchor="end" fill="#222">0</text>
<text class="se" transform="translate(598.9 538.1) scale(0.981 1)" font-size="15.5">dVHH CAR-T</text>
<rect x="588.9" y="545.4" width="109.2" height="83.9" fill="#fff" stroke="#9a9a9a" stroke-width="0.9"/>
<path d="M606.7 594.4h.9M613.5 580.7h.9M627.5 589.4h.9M598.7 578.7h.9M602.5 575.6h.9M620.8 594.6h.9M616.8 590.5h.9M600.8 586.1h.9M636.3 600.5h.9M610.9 580.1h.9M635.6 596.8h.9M600.6 582.7h.9M616.8 592.1h.9M623.6 586.7h.9M638.4 580.5h.9M600.7 589.7h.9M630.2 587.4h.9M621.9 578.9h.9M633.7 567.8h.9M601.0 581.0h.9M607.3 576.1h.9M598.9 599.0h.9M605.3 584.0h.9M607.3 581.4h.9M618.9 579.4h.9M600.4 583.8h.9M615.3 580.4h.9M607.9 594.2h.9M615.7 574.8h.9M612.9 594.5h.9M599.1 576.0h.9M623.6 594.4h.9M606.1 578.4h.9M611.3 582.2h.9M608.1 591.7h.9M598.6 590.2h.9M610.8 575.8h.9M621.4 585.1h.9M612.4 576.5h.9M603.0 586.7h.9M603.7 577.4h.9M622.2 571.1h.9M607.2 580.6h.9M628.1 579.1h.9M624.0 561.9h.9M620.6 576.0h.9M613.5 590.6h.9M604.5 576.6h.9M631.4 567.8h.9M619.7 575.1h.9M598.6 582.6h.9M609.4 588.8h.9M624.6 576.1h.9M608.3 589.7h.9M631.6 595.4h.9M618.2 592.5h.9M604.2 591.3h.9M617.4 584.6h.9M637.9 584.6h.9M611.4 581.8h.9M600.0 591.1h.9M605.2 568.1h.9M622.5 586.6h.9M625.4 587.0h.9M611.2 578.0h.9M599.1 582.3h.9M608.1 586.5h.9M598.2 591.1h.9M609.5 581.1h.9M615.0 586.3h.9M599.2 583.2h.9M634.3 596.9h.9M602.2 577.0h.9M634.1 568.1h.9M607.7 583.9h.9M627.0 560.5h.9M605.7 593.2h.9M604.9 587.6h.9M622.6 592.8h.9M625.7 591.1h.9M608.6 584.9h.9M627.6 590.5h.9M625.8 577.2h.9M601.3 588.8h.9M632.4 576.5h.9M606.5 586.1h.9M599.9 585.0h.9M627.1 589.0h.9M604.4 582.7h.9M600.5 590.1h.9M626.0 605.2h.9M618.9 594.1h.9M619.4 582.3h.9M600.8 587.8h.9M607.0 592.0h.9M620.0 591.3h.9M622.2 583.0h.9M600.2 586.4h.9M602.3 587.1h.9M620.0 584.7h.9M602.0 586.8h.9M640.4 572.9h.9M621.7 594.2h.9M622.4 582.8h.9M625.3 569.3h.9M624.8 587.3h.9M607.2 584.3h.9M622.0 575.0h.9M601.5 581.6h.9M631.9 574.2h.9M607.5 588.3h.9M619.7 569.6h.9M615.5 586.2h.9M613.6 579.8h.9M625.4 576.8h.9M624.5 595.5h.9M637.2 584.6h.9M613.2 593.1h.9M603.1 579.4h.9M603.4 591.9h.9M635.0 565.5h.9M610.3 583.6h.9M614.6 587.0h.9M623.2 589.4h.9M621.8 582.9h.9M629.6 578.8h.9M635.1 576.8h.9M611.0 580.8h.9M600.6 581.8h.9M626.4 586.1h.9M621.5 591.7h.9M624.9 574.0h.9M624.6 577.7h.9M627.5 563.7h.9M613.5 592.7h.9M608.3 595.9h.9M602.7 588.0h.9M614.2 595.0h.9M604.9 577.5h.9M603.1 586.2h.9M599.4 581.7h.9M613.8 578.6h.9M612.4 587.9h.9M612.6 585.0h.9M598.6 569.9h.9M608.8 569.8h.9M602.4 585.5h.9M620.5 578.1h.9M612.4 579.3h.9M620.1 583.8h.9M598.2 588.4h.9M608.7 590.9h.9M597.2 583.1h.9M612.3 583.5h.9M629.0 592.1h.9M615.0 590.9h.9M627.7 579.6h.9M606.4 579.5h.9M623.6 574.4h.9M609.1 578.6h.9M619.1 591.5h.9M610.1 591.5h.9M635.7 605.7h.9M620.6 581.2h.9M621.4 584.4h.9M603.8 585.9h.9M600.2 584.5h.9M613.7 590.0h.9M629.6 612.8h.9M605.2 589.1h.9M616.4 573.7h.9M602.1 576.7h.9M604.3 572.3h.9M613.3 571.8h.9M601.6 592.4h.9M639.0 569.8h.9M613.9 582.0h.9M615.5 567.6h.9M607.2 589.9h.9M613.2 577.7h.9M614.5 581.8h.9M619.3 567.5h.9M611.1 586.2h.9M620.5 594.6h.9M612.1 593.3h.9M620.1 570.3h.9M598.8 589.4h.9M600.1 583.7h.9M606.4 584.6h.9M598.2 578.1h.9M609.1 583.1h.9M614.7 593.9h.9M619.6 580.5h.9M612.3 588.9h.9M613.7 580.4h.9M602.1 582.0h.9M610.5 564.7h.9M615.0 581.7h.9M623.8 611.4h.9M601.2 583.5h.9M599.0 573.0h.9M598.7 579.5h.9M625.8 597.5h.9M612.2 589.2h.9M606.6 579.9h.9M597.1 582.1h.9M615.4 577.5h.9M607.1 584.1h.9M599.6 578.8h.9M622.3 585.4h.9M619.8 575.6h.9M596.0 580.7h.9M629.7 600.7h.9M630.0 589.5h.9M612.1 574.5h.9M602.7 584.2h.9M602.5 593.4h.9M617.9 591.0h.9M631.3 577.4h.9M616.1 587.6h.9M634.5 576.2h.9M596.4 586.5h.9M625.0 591.2h.9M599.9 596.2h.9M601.6 592.1h.9M594.6 583.9h.9M620.2 595.0h.9M621.9 604.0h.9M612.8 578.6h.9M624.8 590.5h.9M597.5 590.7h.9M627.2 583.3h.9M616.1 586.4h.9M601.3 587.6h.9M624.2 592.6h.9M634.0 576.7h.9M626.1 581.0h.9M621.2 580.7h.9M615.4 571.5h.9M624.7 598.7h.9M617.4 583.2h.9M597.5 583.4h.9M615.2 594.2h.9M622.8 577.5h.9M616.8 596.9h.9M624.0 581.5h.9M610.4 582.7h.9M601.8 590.4h.9M609.2 591.4h.9M631.9 605.2h.9M618.3 581.1h.9M608.8 591.3h.9M620.8 588.2h.9M624.4 596.3h.9M617.6 596.8h.9M605.6 574.9h.9M627.6 588.1h.9M605.5 578.3h.9M613.8 573.4h.9M622.5 577.7h.9M608.1 587.5h.9M599.3 574.0h.9M635.1 587.7h.9M623.7 594.6h.9M633.5 601.5h.9M626.1 574.1h.9M605.0 591.4h.9M606.0 584.3h.9M601.9 578.5h.9M635.2 573.3h.9M633.6 591.6h.9M603.7 598.1h.9M606.1 589.3h.9M615.7 568.3h.9M623.4 597.3h.9M616.7 579.0h.9M605.5 575.4h.9M615.8 588.9h.9M611.1 583.1h.9M628.0 582.3h.9M605.9 578.8h.9M612.5 582.2h.9M610.5 587.1h.9M616.3 587.9h.9M620.6 595.9h.9M606.6 589.4h.9M608.1 590.8h.9M616.5 602.6h.9M625.9 581.8h.9M599.8 580.4h.9M624.6 573.3h.9M613.6 568.9h.9M628.4 595.5h.9M624.9 588.2h.9M623.7 574.8h.9M628.1 596.5h.9M617.2 587.8h.9M640.1 585.2h.9M629.9 555.1h.9M611.2 590.0h.9M615.0 594.5h.9M639.9 577.6h.9M609.8 579.9h.9M621.6 590.4h.9M635.9 563.5h.9M620.5 597.2h.9M602.2 582.0h.9M604.3 574.2h.9M619.5 600.6h.9M617.4 593.5h.9M617.3 579.0h.9M632.2 579.2h.9M601.2 570.1h.9M596.9 583.7h.9M625.6 598.5h.9M630.6 579.5h.9M614.6 583.9h.9M633.3 588.8h.9M607.8 584.2h.9M601.5 577.2h.9M619.3 575.3h.9M613.9 592.4h.9M608.1 570.1h.9M625.4 596.2h.9M609.3 588.5h.9M629.9 596.8h.9M600.5 577.1h.9M600.0 581.5h.9M604.5 587.4h.9M607.8 593.5h.9M596.3 584.5h.9M617.8 601.1h.9M636.3 602.7h.9M615.7 590.9h.9M615.2 580.3h.9M609.6 581.2h.9M630.1 606.2h.9M612.6 594.4h.9M623.0 591.8h.9M619.7 585.9h.9M622.1 583.0h.9M611.0 582.7h.9M616.7 588.8h.9M598.6 580.5h.9M607.4 597.6h.9M607.2 591.8h.9M617.7 604.2h.9M610.0 580.1h.9M604.4 585.6h.9M618.6 585.9h.9M622.7 600.1h.9M616.2 576.9h.9M597.6 578.2h.9M601.9 592.7h.9M618.0 571.2h.9M603.0 588.1h.9M606.8 580.4h.9M633.4 582.7h.9M610.6 580.7h.9M598.7 579.4h.9M621.7 591.6h.9M609.5 585.3h.9M629.3 579.0h.9M609.6 595.8h.9M618.2 598.9h.9M609.7 571.0h.9M600.0 584.0h.9M623.5 585.2h.9M603.6 584.7h.9M601.5 577.9h.9M614.4 597.8h.9M617.2 576.1h.9M630.8 592.7h.9M599.7 582.6h.9M624.5 594.3h.9M608.3 588.9h.9M637.3 580.9h.9M632.0 595.0h.9M635.1 599.7h.9M620.4 596.1h.9M619.5 580.1h.9M598.8 583.4h.9M610.3 568.6h.9M602.0 576.7h.9M616.4 600.4h.9M602.8 580.1h.9M619.5 569.7h.9M610.7 578.8h.9M609.8 585.8h.9M616.0 609.2h.9M611.9 589.0h.9M621.9 589.4h.9M639.4 576.4h.9M612.7 581.6h.9M626.8 588.9h.9M618.9 573.3h.9M597.1 594.9h.9M610.0 586.5h.9M610.7 583.7h.9M600.7 589.7h.9M628.7 588.2h.9M620.5 587.1h.9M625.6 601.5h.9M622.3 589.1h.9M610.0 575.9h.9M623.8 559.4h.9M611.0 590.8h.9M600.1 586.5h.9M621.6 580.5h.9M608.3 581.7h.9M618.4 571.6h.9M614.8 577.6h.9M632.3 587.7h.9M607.0 591.6h.9M608.7 592.7h.9M638.9 579.0h.9M599.5 586.2h.9M604.6 586.6h.9M627.9 599.3h.9M630.9 575.0h.9M609.0 579.0h.9M605.8 580.2h.9M604.3 594.7h.9M603.9 578.1h.9M605.1 582.8h.9M616.9 581.7h.9M629.4 586.2h.9M607.2 577.2h.9M597.9 593.0h.9M631.1 586.7h.9M630.6 585.7h.9M626.3 581.7h.9M627.8 600.9h.9M599.5 584.8h.9M603.5 602.8h.9M611.1 578.8h.9M601.4 585.2h.9M601.7 589.8h.9M631.1 576.7h.9M602.7 586.6h.9M618.3 574.5h.9M608.0 589.7h.9M620.1 587.9h.9M624.0 570.8h.9M620.6 584.7h.9M611.3 597.1h.9M600.5 594.1h.9M601.8 589.4h.9M613.2 581.4h.9M604.8 579.5h.9M610.1 580.7h.9M598.7 591.9h.9M602.1 595.1h.9M597.3 584.6h.9M629.1 585.4h.9M601.0 591.6h.9M630.9 600.2h.9M628.5 606.7h.9M608.2 570.8h.9M635.2 606.9h.9M607.6 586.0h.9M621.9 587.1h.9M637.7 585.5h.9M601.8 588.6h.9M626.6 588.4h.9M607.5 593.4h.9M613.0 589.3h.9M613.3 580.7h.9M626.3 581.0h.9M604.5 588.2h.9M621.4 586.2h.9M610.1 590.0h.9M619.3 585.7h.9M605.2 581.6h.9M608.9 582.4h.9M604.0 587.6h.9M616.3 583.2h.9M615.4 587.3h.9M599.4 583.7h.9M599.1 591.8h.9M616.5 590.6h.9M630.1 569.8h.9M601.9 586.4h.9M617.3 575.7h.9M618.9 584.8h.9M605.3 577.4h.9M610.0 584.0h.9M607.7 576.9h.9M603.8 589.3h.9M607.7 578.2h.9M606.7 582.7h.9M608.0 600.5h.9M612.6 574.6h.9M612.9 589.0h.9M597.4 582.2h.9M611.5 578.9h.9M626.2 575.1h.9M608.9 570.3h.9M602.2 585.3h.9M602.1 580.7h.9M626.4 590.3h.9M617.8 574.5h.9M614.9 589.0h.9M596.8 577.5h.9M613.5 571.2h.9M626.0 576.3h.9M611.4 592.1h.9M617.7 586.0h.9M623.5 583.8h.9M624.9 577.3h.9M618.7 602.3h.9M628.3 569.1h.9M621.6 593.5h.9M607.8 585.8h.9M612.4 594.4h.9M617.9 592.4h.9M601.5 588.9h.9M610.2 582.0h.9M597.7 578.0h.9M606.4 586.5h.9" stroke="#3b34e0" stroke-width="0.9" opacity="0.6" fill="none"/>
<path d="M603.0 585.4 C609.3 575.9 624.2 569.5 636.0 569.5 C642.5 569.5 643.0 576.7 643.0 584.9 C643.0 592.9 642.5 601.3 636.0 601.3 C624.2 601.3 609.3 593.6 603.0 585.4 Z" fill="#3a36e2" filter="url(#b2)" opacity="0.75"/>
<path d="M611.0 585.4 C615.6 577.5 628.1 572.3 636.5 572.3 C643.0 572.3 643.2 578.1 643.2 584.9 C643.2 591.3 643.0 598.5 636.5 598.5 C628.1 598.5 615.6 592.0 611.0 585.4 Z" fill="#1f35e4" filter="url(#b1)" opacity="0.95"/>
<path d="M617.7 585.4 C620.9 579.0 630.3 575.0 635.9 575.0 C641.5 575.0 641.6 579.5 641.6 584.9 C641.6 589.8 641.5 595.8 635.9 595.8 C630.3 595.8 620.9 590.3 617.7 585.4 Z" fill="#169fea" filter="url(#b1)" opacity="1"/>
<path d="M622.3 585.4 C624.4 580.2 631.6 577.2 635.2 577.2 C639.9 577.2 640.0 580.5 640.0 584.9 C640.0 588.6 639.9 593.6 635.2 593.6 C631.6 593.6 624.4 589.0 622.3 585.4 Z" fill="#20d468" filter="url(#b1)" opacity="1"/>
<path d="M626.9 585.4 C628.0 581.6 632.7 579.8 634.5 579.8 C638.0 579.8 638.0 581.9 638.0 584.9 C638.0 587.2 638.0 591.0 634.5 591.0 C632.7 591.0 628.0 587.4 626.9 585.4 Z" fill="#b8e62a" filter="url(#b1)" opacity="1"/>
<ellipse cx="632.0" cy="584.9" rx="2.7" ry="3" fill="#f0601c" filter="url(#b1)"/>
<line x1="642.4" y1="545.4" x2="642.4" y2="629.3" stroke="#555" stroke-width="1.1"/>
<line x1="588.9" y1="592.2" x2="698.1" y2="592.2" stroke="#555" stroke-width="1.1"/>
<line x1="586.4" y1="549.4" x2="588.9" y2="549.4" stroke="#888" stroke-width="0.7"/>
<text class="sa n" transform="translate(585.7 551.2)" font-size="4.5" text-anchor="end" fill="#8f8f8f">10<tspan dy="-2" font-size="3.6">5</tspan></text>
<line x1="596.9" y1="629.3" x2="596.9" y2="631.8" stroke="#888" stroke-width="0.7"/>
<text class="sa n" transform="translate(596.9 637.6)" font-size="4.5" text-anchor="middle" fill="#8f8f8f">10<tspan dy="-2" font-size="3.6">0</tspan></text>
<line x1="586.4" y1="564.6" x2="588.9" y2="564.6" stroke="#888" stroke-width="0.7"/>
<text class="sa n" transform="translate(585.7 566.4)" font-size="4.5" text-anchor="end" fill="#8f8f8f">10<tspan dy="-2" font-size="3.6">4</tspan></text>
<line x1="615.9" y1="629.3" x2="615.9" y2="631.8" stroke="#888" stroke-width="0.7"/>
<text class="sa n" transform="translate(615.9 637.6)" font-size="4.5" text-anchor="middle" fill="#8f8f8f">10<tspan dy="-2" font-size="3.6">1</tspan></text>
<line x1="586.4" y1="579.8" x2="588.9" y2="579.8" stroke="#888" stroke-width="0.7"/>
<text class="sa n" transform="translate(585.7 581.6)" font-size="4.5" text-anchor="end" fill="#8f8f8f">10<tspan dy="-2" font-size="3.6">3</tspan></text>
<line x1="635.0" y1="629.3" x2="635.0" y2="631.8" stroke="#888" stroke-width="0.7"/>
<text class="sa n" transform="translate(635.0 637.6)" font-size="4.5" text-anchor="middle" fill="#8f8f8f">10<tspan dy="-2" font-size="3.6">2</tspan></text>
<line x1="586.4" y1="594.9" x2="588.9" y2="594.9" stroke="#888" stroke-width="0.7"/>
<text class="sa n" transform="translate(585.7 596.7)" font-size="4.5" text-anchor="end" fill="#8f8f8f">10<tspan dy="-2" font-size="3.6">2</tspan></text>
<line x1="654.0" y1="629.3" x2="654.0" y2="631.8" stroke="#888" stroke-width="0.7"/>
<text class="sa n" transform="translate(654.0 637.6)" font-size="4.5" text-anchor="middle" fill="#8f8f8f">10<tspan dy="-2" font-size="3.6">3</tspan></text>
<line x1="586.4" y1="610.1" x2="588.9" y2="610.1" stroke="#888" stroke-width="0.7"/>
<text class="sa n" transform="translate(585.7 611.9)" font-size="4.5" text-anchor="end" fill="#8f8f8f">10<tspan dy="-2" font-size="3.6">1</tspan></text>
<line x1="673.1" y1="629.3" x2="673.1" y2="631.8" stroke="#888" stroke-width="0.7"/>
<text class="sa n" transform="translate(673.1 637.6)" font-size="4.5" text-anchor="middle" fill="#8f8f8f">10<tspan dy="-2" font-size="3.6">4</tspan></text>
<line x1="586.4" y1="625.3" x2="588.9" y2="625.3" stroke="#888" stroke-width="0.7"/>
<text class="sa n" transform="translate(585.7 627.1)" font-size="4.5" text-anchor="end" fill="#8f8f8f">10<tspan dy="-2" font-size="3.6">0</tspan></text>
<line x1="692.1" y1="629.3" x2="692.1" y2="631.8" stroke="#888" stroke-width="0.7"/>
<text class="sa n" transform="translate(692.1 637.6)" font-size="4.5" text-anchor="middle" fill="#8f8f8f">10<tspan dy="-2" font-size="3.6">5</tspan></text>
<line x1="587.6" y1="548.4" x2="588.9" y2="548.4" stroke="#aaa" stroke-width="0.5"/>
<line x1="591.9" y1="629.3" x2="591.9" y2="630.6" stroke="#aaa" stroke-width="0.5"/>
<line x1="587.6" y1="551.1" x2="588.9" y2="551.1" stroke="#aaa" stroke-width="0.5"/>
<line x1="595.5" y1="629.3" x2="595.5" y2="630.6" stroke="#aaa" stroke-width="0.5"/>
<line x1="587.6" y1="553.8" x2="588.9" y2="553.8" stroke="#aaa" stroke-width="0.5"/>
<line x1="599.0" y1="629.3" x2="599.0" y2="630.6" stroke="#aaa" stroke-width="0.5"/>
<line x1="587.6" y1="556.5" x2="588.9" y2="556.5" stroke="#aaa" stroke-width="0.5"/>
<line x1="602.6" y1="629.3" x2="602.6" y2="630.6" stroke="#aaa" stroke-width="0.5"/>
<line x1="587.6" y1="559.1" x2="588.9" y2="559.1" stroke="#aaa" stroke-width="0.5"/>
<line x1="606.1" y1="629.3" x2="606.1" y2="630.6" stroke="#aaa" stroke-width="0.5"/>
<line x1="587.6" y1="561.8" x2="588.9" y2="561.8" stroke="#aaa" stroke-width="0.5"/>
<line x1="609.7" y1="629.3" x2="609.7" y2="630.6" stroke="#aaa" stroke-width="0.5"/>
<line x1="587.6" y1="564.5" x2="588.9" y2="564.5" stroke="#aaa" stroke-width="0.5"/>
<line x1="613.3" y1="629.3" x2="613.3" y2="630.6" stroke="#aaa" stroke-width="0.5"/>
<line x1="587.6" y1="567.2" x2="588.9" y2="567.2" stroke="#aaa" stroke-width="0.5"/>
<line x1="616.8" y1="629.3" x2="616.8" y2="630.6" stroke="#aaa" stroke-width="0.5"/>
<line x1="587.6" y1="569.9" x2="588.9" y2="569.9" stroke="#aaa" stroke-width="0.5"/>
<line x1="620.4" y1="629.3" x2="620.4" y2="630.6" stroke="#aaa" stroke-width="0.5"/>
<line x1="587.6" y1="572.6" x2="588.9" y2="572.6" stroke="#aaa" stroke-width="0.5"/>
<line x1="623.9" y1="629.3" x2="623.9" y2="630.6" stroke="#aaa" stroke-width="0.5"/>
<line x1="587.6" y1="575.3" x2="588.9" y2="575.3" stroke="#aaa" stroke-width="0.5"/>
<line x1="627.5" y1="629.3" x2="627.5" y2="630.6" stroke="#aaa" stroke-width="0.5"/>
<line x1="587.6" y1="577.9" x2="588.9" y2="577.9" stroke="#aaa" stroke-width="0.5"/>
<line x1="631.0" y1="629.3" x2="631.0" y2="630.6" stroke="#aaa" stroke-width="0.5"/>
<line x1="587.6" y1="580.6" x2="588.9" y2="580.6" stroke="#aaa" stroke-width="0.5"/>
<line x1="634.6" y1="629.3" x2="634.6" y2="630.6" stroke="#aaa" stroke-width="0.5"/>
<line x1="587.6" y1="583.3" x2="588.9" y2="583.3" stroke="#aaa" stroke-width="0.5"/>
<line x1="638.2" y1="629.3" x2="638.2" y2="630.6" stroke="#aaa" stroke-width="0.5"/>
<line x1="587.6" y1="586.0" x2="588.9" y2="586.0" stroke="#aaa" stroke-width="0.5"/>
<line x1="641.7" y1="629.3" x2="641.7" y2="630.6" stroke="#aaa" stroke-width="0.5"/>
<line x1="587.6" y1="588.7" x2="588.9" y2="588.7" stroke="#aaa" stroke-width="0.5"/>
<line x1="645.3" y1="629.3" x2="645.3" y2="630.6" stroke="#aaa" stroke-width="0.5"/>
<line x1="587.6" y1="591.4" x2="588.9" y2="591.4" stroke="#aaa" stroke-width="0.5"/>
<line x1="648.8" y1="629.3" x2="648.8" y2="630.6" stroke="#aaa" stroke-width="0.5"/>
<line x1="587.6" y1="594.1" x2="588.9" y2="594.1" stroke="#aaa" stroke-width="0.5"/>
<line x1="652.4" y1="629.3" x2="652.4" y2="630.6" stroke="#aaa" stroke-width="0.5"/>
<line x1="587.6" y1="596.8" x2="588.9" y2="596.8" stroke="#aaa" stroke-width="0.5"/>
<line x1="656.0" y1="629.3" x2="656.0" y2="630.6" stroke="#aaa" stroke-width="0.5"/>
<line x1="587.6" y1="599.4" x2="588.9" y2="599.4" stroke="#aaa" stroke-width="0.5"/>
<line x1="659.5" y1="629.3" x2="659.5" y2="630.6" stroke="#aaa" stroke-width="0.5"/>
<line x1="587.6" y1="602.1" x2="588.9" y2="602.1" stroke="#aaa" stroke-width="0.5"/>
<line x1="663.1" y1="629.3" x2="663.1" y2="630.6" stroke="#aaa" stroke-width="0.5"/>
<line x1="587.6" y1="604.8" x2="588.9" y2="604.8" stroke="#aaa" stroke-width="0.5"/>
<line x1="666.6" y1="629.3" x2="666.6" y2="630.6" stroke="#aaa" stroke-width="0.5"/>
<line x1="587.6" y1="607.5" x2="588.9" y2="607.5" stroke="#aaa" stroke-width="0.5"/>
<line x1="670.2" y1="629.3" x2="670.2" y2="630.6" stroke="#aaa" stroke-width="0.5"/>
<line x1="587.6" y1="610.2" x2="588.9" y2="610.2" stroke="#aaa" stroke-width="0.5"/>
<line x1="673.7" y1="629.3" x2="673.7" y2="630.6" stroke="#aaa" stroke-width="0.5"/>
<line x1="587.6" y1="612.9" x2="588.9" y2="612.9" stroke="#aaa" stroke-width="0.5"/>
<line x1="677.3" y1="629.3" x2="677.3" y2="630.6" stroke="#aaa" stroke-width="0.5"/>
<line x1="587.6" y1="615.6" x2="588.9" y2="615.6" stroke="#aaa" stroke-width="0.5"/>
<line x1="680.9" y1="629.3" x2="680.9" y2="630.6" stroke="#aaa" stroke-width="0.5"/>
<line x1="587.6" y1="618.2" x2="588.9" y2="618.2" stroke="#aaa" stroke-width="0.5"/>
<line x1="684.4" y1="629.3" x2="684.4" y2="630.6" stroke="#aaa" stroke-width="0.5"/>
<line x1="587.6" y1="620.9" x2="588.9" y2="620.9" stroke="#aaa" stroke-width="0.5"/>
<line x1="688.0" y1="629.3" x2="688.0" y2="630.6" stroke="#aaa" stroke-width="0.5"/>
<line x1="587.6" y1="623.6" x2="588.9" y2="623.6" stroke="#aaa" stroke-width="0.5"/>
<line x1="691.5" y1="629.3" x2="691.5" y2="630.6" stroke="#aaa" stroke-width="0.5"/>
<line x1="587.6" y1="626.3" x2="588.9" y2="626.3" stroke="#aaa" stroke-width="0.5"/>
<line x1="695.1" y1="629.3" x2="695.1" y2="630.6" stroke="#aaa" stroke-width="0.5"/>
<text class="sa" transform="translate(591.1 557.6) scale(1.270 1)" font-size="7.5" fill="#222">94.0</text>
<text class="sa" transform="translate(658.1 557.6) scale(1.270 1)" font-size="7.5" fill="#222">0.051</text>
<text class="sa" transform="translate(591.1 621.5) scale(1.270 1)" font-size="7.5" fill="#222">5.99</text>
<text class="sa" transform="translate(643.0 621.5) scale(1.270 1)" font-size="7.5" fill="#222">3.01E-3</text>
<path d="M565.6 446 L565.2 639.6 L700 641.2" fill="none" stroke="#000" stroke-width="1.4"/>
<path d="M565.6 442.5 L562.9 448.5 L568.3 448.5 Z" fill="#000"/>
<path d="M705 641.3 L699 638.5 L699 644.1 Z" fill="#000"/>
<text class="se" transform="translate(552.5 638.5) rotate(-90) scale(0.955 1)" font-size="15">CAR(ERB)</text>
<text class="se" transform="translate(571.1 657.4) scale(0.972 1)" font-size="15.5">CD7</text>
<text class="sa" transform="translate(739.5 434.2) scale(1.040 1)" font-size="21">I</text>
<text class="se" transform="translate(848.8 493.8) rotate(-90) scale(0.905 1)" font-size="15.5">T Ctl</text>
<text class="se" transform="translate(891.8 493.8) rotate(-90) scale(0.898 1)" font-size="15.5">KO7CAR</text>
<text class="se" transform="translate(933.3 493.8) rotate(-90) scale(0.928 1)" font-size="15.5">scFv NS7CAR</text>
<text class="se" transform="translate(970.3 493.8) rotate(-90) scale(0.911 1)" font-size="15.5">dVHH NS7CAR</text>
<linearGradient id="wb1" x1="0" y1="0" x2="1" y2="1"><stop offset="0" stop-color="#e6e6e6"/><stop offset="0.5" stop-color="#dedede"/><stop offset="1" stop-color="#cdcdcd"/></linearGradient>
<rect x="818.8" y="496.3" width="168.2" height="53.2" fill="url(#wb1)"/>
<g filter="url(#b2)">
<rect x="831.5" y="508.5" width="30" height="16.5" rx="7" fill="#050505"/>
<rect x="912.5" y="518.2" width="28" height="8.6" rx="4" fill="#151515"/>
<rect x="912" y="530" width="29" height="10.5" rx="5" fill="#080808"/>
<rect x="951" y="517" width="29.5" height="11" rx="5" fill="#0a0a0a"/>
<rect x="950.5" y="529" width="30.5" height="12.5" rx="6" fill="#040404"/>
<rect x="953" y="522" width="26" height="14" fill="#111"/>
</g>
<rect x="818.8" y="550.6" width="168.2" height="37.4" fill="#b4b4b4"/>
<rect x="818.8" y="550.6" width="168.2" height="37.4" fill="#fff" filter="url(#grain)" opacity="0.3"/>
<g filter="url(#b2)">
<rect x="838" y="567.8" width="20" height="5" rx="2.5" fill="#666" opacity="0.7"/>
<rect x="871" y="569.5" width="31" height="9.5" rx="4.5" fill="#0c0c0c"/>
<rect x="912" y="567.5" width="29" height="9.5" rx="4.5" fill="#141414"/>
<rect x="953" y="572" width="28" height="7.5" rx="3.7" fill="#161616"/>
</g>
<line x1="818.8" y1="550.1" x2="987.0" y2="550.1" stroke="#f4f4f4" stroke-width="1"/>
<linearGradient id="gel" x1="0" y1="0" x2="0" y2="1"><stop offset="0" stop-color="#303030"/><stop offset="0.35" stop-color="#242424"/><stop offset="0.6" stop-color="#141414"/><stop offset="1" stop-color="#101010"/></linearGradient>
<rect x="818.8" y="590.0" width="168.2" height="51.3" fill="url(#gel)"/>
<rect x="862.0" y="590.0" width="0.8" height="51.3" fill="#000" opacity="0.25"/>
<g filter="url(#b1)">
<rect x="825.5" y="613" width="34.5" height="9" rx="4.5" fill="#fff"/>
<rect x="869" y="615.3" width="27" height="4.6" rx="2.3" fill="#8a8a8a" opacity="0.75"/>
<rect x="908.5" y="612.5" width="31.5" height="8" rx="4" fill="#fff"/>
<rect x="948.5" y="612.3" width="34" height="8.6" rx="4.3" fill="#fff"/>
</g>
<text class="se" transform="translate(778.8 520.5) scale(0.952 1)" font-size="15.5">CD7</text>
<text class="se" transform="translate(762.5 576.3) scale(0.967 1)" font-size="15.5">β-acting</text>
<text class="se" transform="translate(780.0 622.0) scale(0.956 1)" font-size="15.5">CD7</text>
<line x1="760.5" y1="500.0" x2="760.5" y2="582.5" stroke="#000" stroke-width="2.6"/>
<line x1="760.5" y1="592.5" x2="760.5" y2="633.0" stroke="#000" stroke-width="2.6"/>
<text class="se" transform="translate(750.5 551.3) rotate(-90) scale(0.872 1)" font-size="15">WB</text>
<text class="se" transform="translate(749.5 636.3) rotate(-90) scale(0.913 1)" font-size="15">RT-PCR</text>
<text class="sa" transform="translate(24.4 689.3) scale(1.040 1)" font-size="21">J</text>
<text class="se" transform="translate(140.0 705.0) scale(1.200 1)" font-size="18.5">2×10<tspan dy="-6" font-size="11.5">6</tspan></text>
<text class="se" transform="translate(86.0 728.3) scale(1.207 1)" font-size="18.5">KG-1a-GFP-Luc</text>
<text class="se" transform="translate(296.0 705.0) scale(1.220 1)" font-size="18.5">0.75×10<tspan dy="-6" font-size="11.5">6</tspan></text>
<text class="se" transform="translate(302.7 728.3) scale(1.149 1)" font-size="18.5">CAR-T</text>
<text class="se" transform="translate(723.6 716.7) scale(1.158 1)" font-size="19">IVIS images</text>
<line x1="169.3" y1="760.0" x2="1012.6" y2="760.0" stroke="#000" stroke-width="3.3"/>
<circle cx="169.3" cy="760.0" r="7.3" fill="#000"/>
<circle cx="338.3" cy="760.0" r="7.3" fill="#000"/>
<circle cx="506.7" cy="760.0" r="7.3" fill="#000"/>
<circle cx="675.4" cy="760.0" r="7.3" fill="#000"/>
<circle cx="844.2" cy="760.0" r="7.3" fill="#000"/>
<circle cx="1012.6" cy="760.0" r="7.3" fill="#000"/>
<line x1="168.3" y1="735.0" x2="168.3" y2="749.5" stroke="#000" stroke-width="2.2"/>
<path d="M164.1 745.7 L172.5 745.7 L168.3 751.5 Z" fill="#000"/>
<line x1="337.5" y1="735.0" x2="337.5" y2="749.5" stroke="#000" stroke-width="2.2"/>
<path d="M333.3 745.7 L341.7 745.7 L337.5 751.5 Z" fill="#000"/>
<line x1="505.3" y1="735.3" x2="1014.2" y2="735.3" stroke="#000" stroke-width="1.8"/>
<line x1="506.2" y1="735.3" x2="506.2" y2="750.0" stroke="#000" stroke-width="2.2"/>
<path d="M502.0 746.2 L510.4 746.2 L506.2 752.0 Z" fill="#000"/>
<line x1="675.6" y1="735.3" x2="675.6" y2="750.0" stroke="#000" stroke-width="2.2"/>
<path d="M671.4 746.2 L679.8 746.2 L675.6 752.0 Z" fill="#000"/>
<line x1="844.2" y1="735.3" x2="844.2" y2="750.0" stroke="#000" stroke-width="2.2"/>
<path d="M840.0 746.2 L848.4 746.2 L844.2 752.0 Z" fill="#000"/>
<line x1="1013.3" y1="735.3" x2="1013.3" y2="750.0" stroke="#000" stroke-width="2.2"/>
<path d="M1009.1 746.2 L1017.5 746.2 L1013.3 752.0 Z" fill="#000"/>
<text class="se" transform="translate(86.0 797.3) scale(1.121 1)" font-size="18.5">Day</text>
<text class="se" transform="translate(167.0 797.3) scale(1.200 1)" font-size="18.5" text-anchor="middle">-6</text>
<text class="se" transform="translate(332.3 797.3) scale(1.200 1)" font-size="18.5" text-anchor="middle">0</text>
<text class="se" transform="translate(505.0 797.3) scale(1.200 1)" font-size="18.5" text-anchor="middle">1</text>
<text class="se" transform="translate(671.9 797.3) scale(1.200 1)" font-size="18.5" text-anchor="middle">8</text>
<text class="se" transform="translate(844.2 797.3) scale(1.200 1)" font-size="18.5" text-anchor="middle">15</text>
<text class="se" transform="translate(1013.4 797.3) scale(1.200 1)" font-size="18.5" text-anchor="middle">22</text>
<text class="sa" transform="translate(22.7 886.5) scale(1.040 1)" font-size="21">K</text>
<text class="se" transform="translate(166.3 901.6) scale(1.082 1)" font-size="19.5">PBS</text>
<text class="se" transform="translate(341.5 901.5) scale(1.105 1)" font-size="19.5">T  Ctl</text>
<text class="se" transform="translate(509.0 901.5) scale(1.104 1)" font-size="19.5">dVHH</text>
<text class="se" transform="translate(61.8 945.0)" font-size="20.5">D1</text>
<text class="se" transform="translate(61.8 1018.0)" font-size="20.5">D8</text>
<text class="se" transform="translate(61.8 1087.5) scale(0.991 1)" font-size="20.5">D15</text>
<text class="se" transform="translate(61.8 1162.5) scale(0.991 1)" font-size="20.5">D22</text>
<clipPath id="cp1"><rect x="108.0" y="907.5" width="154.5" height="57.5"/></clipPath>
<g clip-path="url(#cp1)">
<rect x="108.0" y="907.5" width="154.5" height="57.5" fill="url(#cage)"/>
<rect x="108.0" y="933.4" width="154.5" height="31.6" fill="#1c1c1c" opacity="0.75"/>
<g filter="url(#rough)">
<use href="#mouse" transform="translate(107.7 908.0) scale(1.010 0.974)"/>
<use href="#mouse" transform="translate(133.5 908.0) scale(1.010 0.974)"/>
<path d="M146.1 947.5h1.6M146.3 946.2h1.3M143.4 946.3h1.4M149.6 935.7h1.1M142.5 953.8h1.4M142.0 958.2h1.7M148.2 948.9h0.9M141.7 946.7h0.9M143.5 939.5h0.8M146.3 944.5h1.6M146.8 949.5h1.2M148.3 944.9h1.1M151.7 958.5h1.6M148.7 941.3h1.0M144.5 935.1h1.5M145.6 954.8h1.1M151.3 954.8h0.8M143.7 956.4h1.2M151.5 943.4h0.9M147.9 953.0h1.0M142.5 941.8h1.7M149.2 936.3h1.0M142.6 934.8h1.5M143.4 947.5h1.2M143.5 951.9h0.9M148.1 936.3h1.2M143.7 940.2h1.7M149.7 941.0h1.6M143.7 943.3h1.6M148.1 935.9h1.7M143.7 939.9h1.5M144.9 940.8h0.9M142.5 948.1h1.0M147.6 942.7h1.2M151.3 945.6h1.3M150.3 938.0h0.9M150.8 954.0h1.0M143.5 952.1h1.6M143.6 957.4h1.6M147.7 944.0h0.9M142.0 957.7h1.0M148.7 939.8h1.5M147.6 940.8h1.0M148.9 935.1h1.0M147.2 954.9h1.4M144.4 956.6h1.0M141.7 940.1h1.2M142.2 937.8h1.1M147.4 936.7h1.1M150.6 958.2h1.4M148.6 948.1h0.9M141.9 933.8h1.6M148.7 957.7h0.8M148.0 945.5h1.5M144.8 958.6h0.9M147.1 952.0h1.6M149.0 951.2h1.5M150.8 942.2h1.4M150.7 955.4h1.2M149.6 955.2h1.3" stroke="#640cf0" stroke-width="1.0" opacity="0.75" fill="none"/>
<path d="M138.3 952.6h1.3M138.2 949.7h1.4M140.5 957.5h1.5M136.9 956.1h1.3M137.2 957.1h0.9M139.0 949.2h1.3M137.4 951.2h1.4M137.5 954.9h1.6M136.1 949.0h1.1M138.6 950.9h1.0M140.0 955.3h1.2M139.9 952.1h1.4M135.7 953.1h1.5M140.0 957.5h1.1M138.0 952.0h0.9M137.5 957.1h1.6M138.8 958.2h1.0M135.5 953.3h1.0M135.8 952.9h1.4M137.5 952.0h1.6M140.5 953.3h0.9M134.7 957.4h0.8M138.8 954.5h1.1M139.3 949.1h0.9M137.3 949.2h1.5" stroke="#640cf0" stroke-width="1.0" opacity="0.75" fill="none"/>
<path d="M154.1 950.0h0.8M156.5 952.4h1.4M156.7 955.2h1.7M156.8 950.5h1.2M153.8 949.0h1.2M157.0 950.3h1.0M154.8 954.3h1.3M156.4 954.8h1.2M157.5 956.0h0.9M158.3 954.5h0.9M155.4 953.8h1.6M155.0 953.3h1.6M157.5 956.3h1.2M156.6 950.5h1.4M157.6 953.9h1.4M154.0 955.9h1.7M158.6 953.1h1.5M154.6 956.0h1.6M154.8 949.6h1.2M156.0 954.9h1.2" stroke="#640cf0" stroke-width="1.0" opacity="0.75" fill="none"/>
<ellipse cx="145.6" cy="960.1" rx="4.0" ry="2.1" fill="#640cf0" filter="url(#b05)"/>
<use href="#mouse" transform="translate(159.2 908.0) scale(1.010 0.974)"/>
<ellipse cx="169.3" cy="960.6" rx="2.2" ry="1.6" fill="#640cf0" filter="url(#b05)"/>
<ellipse cx="175.4" cy="960.6" rx="2.2" ry="1.6" fill="#640cf0" filter="url(#b05)"/>
<use href="#mouse" transform="translate(185.0 908.0) scale(1.010 0.974)"/>
<path d="M190.5 948.3h0.9M202.2 939.6h1.1M202.0 939.1h0.9M197.9 947.1h1.6M200.5 950.1h1.2M204.4 938.4h1.0M198.0 941.2h1.5M199.7 944.4h1.6M198.5 941.5h1.1M202.9 949.5h1.0" stroke="#640cf0" stroke-width="1.0" opacity="0.75" fill="none"/>
<use href="#mouse" transform="translate(210.7 908.0) scale(1.010 0.974)"/>
<use href="#mouse" transform="translate(236.5 908.0) scale(1.010 0.974)"/>
<path d="M256.9 951.8h1.3M253.5 926.3h1.3M252.7 939.7h0.8M258.3 936.8h1.2M256.3 938.3h1.2M255.0 921.9h1.3M251.6 951.4h1.6M249.9 935.4h0.9M251.9 946.7h1.6M252.4 930.2h1.0M254.1 950.3h0.9M256.0 920.4h1.0M249.3 942.4h1.1M250.9 940.2h0.9M255.5 923.8h1.3M249.6 926.2h1.3M251.9 932.1h1.2M253.0 925.0h1.0M254.2 940.8h1.3M256.9 939.9h1.6M249.4 944.2h1.5M257.5 930.2h1.1M257.8 926.9h1.7M257.4 924.1h1.0" stroke="#640cf0" stroke-width="1.0" opacity="0.75" fill="none"/>
<ellipse cx="249.6" cy="957.2" rx="4.5" ry="2.9" fill="#640cf0" filter="url(#b05)"/>
<path d="M252.4 953.4h0.9M253.7 955.0h1.5M245.1 954.8h1.4M243.8 952.8h1.4M254.6 960.3h0.9M249.7 958.2h1.3M251.9 952.7h0.9M244.9 951.2h1.3M249.8 956.4h0.9M245.8 952.8h1.6M255.6 959.9h0.9M244.3 960.1h1.2M252.8 954.0h1.2M249.8 955.1h1.3" stroke="#640cf0" stroke-width="1.0" opacity="0.75" fill="none"/>
</g>
<rect x="108.0" y="907.5" width="154.5" height="57.5" fill="#fff" filter="url(#mottle)" style="mix-blend-mode:multiply"/>
<line x1="138.0" y1="907.5" x2="138.0" y2="965.0" stroke="#eee" stroke-width="1"/>
<line x1="213.8" y1="907.5" x2="213.8" y2="965.0" stroke="#eee" stroke-width="1"/>
</g>
<clipPath id="cp2"><rect x="108.0" y="979.5" width="154.0" height="57.5"/></clipPath>
<g clip-path="url(#cp2)">
<rect x="108.0" y="979.5" width="154.0" height="57.5" fill="url(#cage)"/>
<rect x="108.0" y="1005.4" width="154.0" height="31.6" fill="#1c1c1c" opacity="0.75"/>
<g filter="url(#rough)">
<use href="#mouse" transform="translate(107.7 980.0) scale(1.007 0.974)"/>
<path d="M111.0 1020.6h1.6M114.2 1013.8h1.5M118.5 1006.8h0.9M120.6 1001.9h1.6M126.1 1020.7h1.6M122.8 1012.5h1.3M120.4 1028.2h1.5M115.7 1026.3h1.5M125.6 1023.7h1.2M127.9 1025.4h1.4M125.4 1022.3h1.2M124.6 1003.4h1.1M119.7 1001.7h1.1M123.0 1018.5h1.0M128.8 1019.6h1.1M123.4 1017.0h1.3M118.2 1028.7h1.4M124.2 1022.2h1.7M111.2 1018.2h1.5M115.7 1012.4h0.8M114.5 1011.7h0.9M115.6 1026.1h1.3M120.5 1027.8h1.3M129.8 1018.8h1.5M112.2 1017.7h1.5M111.6 1026.8h0.9M119.8 1006.0h1.2M122.5 1003.0h1.7M118.8 1015.8h1.3M117.8 1009.2h1.4M121.5 1009.2h1.4M116.4 1001.8h1.0M111.6 1005.7h1.5M118.2 1025.9h1.5M111.7 1028.4h1.7M112.2 1026.1h1.2M119.9 1028.0h1.0M120.8 1027.0h1.5M119.7 1028.1h1.5M122.3 1004.6h1.4M119.5 1007.0h0.8M120.9 1004.8h1.2M123.5 1013.9h1.0M121.9 1012.9h1.5M120.9 1028.6h1.7M124.8 1007.9h0.9M127.8 1022.8h1.4M117.6 1008.8h1.4M121.6 1017.6h1.4M125.2 1006.6h1.0M129.5 1026.4h1.6M111.5 1003.1h1.0M118.9 1018.4h0.9M121.1 1003.4h0.9M123.7 1016.4h1.4M117.9 1014.5h1.0M117.3 1021.7h1.6M112.2 1004.7h1.5M122.7 1022.4h1.0M118.9 1008.5h1.5" stroke="#640cf0" stroke-width="1.0" opacity="0.75" fill="none"/>
<ellipse cx="109.8" cy="1022.9" rx="3.0" ry="4.9" fill="#640cf0" filter="url(#b05)"/>
<ellipse cx="113.8" cy="1029.7" rx="4.0" ry="2.9" fill="#640cf0" filter="url(#b05)"/>
<use href="#mouse" transform="translate(133.4 980.0) scale(1.007 0.974)"/>
<path transform="translate(133.4 980.0) scale(1.007 0.974)" d="M13 3 C17.5 3 20.5 7 21.5 13 C23.5 19 25.6 30 25.4 40 C25.2 47 22 52 17.5 53.5 C15 54.3 11 54.3 8.5 53.5 C4 52 .8 47 .6 40 C.4 30 2.5 19 4.5 13 C5.5 7 8.5 3 13 3 Z" fill="#640cf0" filter="url(#b05)"/>
<ellipse cx="146.5" cy="1019.0" rx="15.1" ry="13.6" fill="#640cf0" filter="url(#b05)"/>
<path d="M141.0 995.4h2.1M140.7 994.2h1.8M144.9 992.8h1.3M139.1 998.0h0.9M139.0 994.4h1.4M143.3 991.3h1.8" stroke="#f1e9fb" stroke-width="1.2" fill="none"/>
<use href="#mouse" transform="translate(159.1 980.0) scale(1.007 0.974)"/>
<ellipse cx="173.2" cy="1019.9" rx="12.6" ry="12.7" fill="#640cf0" filter="url(#b05)"/>
<ellipse cx="164.1" cy="997.5" rx="4.0" ry="8.8" fill="#640cf0" filter="url(#b05)"/>
<ellipse cx="169.1" cy="1006.3" rx="5.0" ry="5.8" fill="#640cf0" filter="url(#b05)"/>
<path d="M168.1 1000.0h1.7M168.1 1001.1h1.7M175.5 1000.8h1.0M171.5 1006.0h1.3M168.6 1005.8h1.5M178.2 1008.5h2.0M172.4 1006.9h1.2M171.0 1002.2h2.0M177.9 1000.4h1.3M171.5 1001.8h1.3M171.8 999.8h1.5M176.8 1003.9h1.9" stroke="#f1e9fb" stroke-width="1.2" fill="none"/>
<ellipse cx="174.2" cy="984.9" rx="3.5" ry="2.4" fill="#640cf0" filter="url(#b05)"/>
<path d="M173.3 1024.2h1.8M179.1 1025.1h0.8M172.5 1027.1h1.5M180.6 1027.9h1.8M164.3 1027.1h1.8M164.6 1023.5h1.8" stroke="#f1e9fb" stroke-width="1.2" fill="none"/>
<use href="#mouse" transform="translate(184.7 980.0) scale(1.007 0.974)"/>
<path d="M208.3 1019.8h1.4M203.7 1026.2h1.4M204.4 1021.1h1.5M206.0 1026.4h1.2M204.9 1028.4h1.4M205.9 1024.2h1.4" stroke="#640cf0" stroke-width="1.0" opacity="0.75" fill="none"/>
<use href="#mouse" transform="translate(210.4 980.0) scale(1.007 0.974)"/>
<ellipse cx="220.5" cy="1021.9" rx="12.1" ry="9.7" fill="#640cf0" filter="url(#b05)"/>
<ellipse cx="209.4" cy="1020.9" rx="4.0" ry="4.9" fill="#640cf0" filter="url(#b05)"/>
<path d="M228.7 1012.9h1.2M231.1 1006.6h1.6M230.7 1010.9h1.6M233.7 1006.0h1.3M228.7 1010.1h1.2M222.9 993.4h1.5M234.4 999.3h1.0M218.6 1000.5h1.1M234.0 991.2h1.1M216.7 1006.2h1.5M218.1 991.3h1.2M226.2 1012.8h0.8M216.6 994.4h1.0M219.2 1007.9h1.3M218.9 994.4h1.1M217.9 1008.9h1.1M225.5 1010.4h1.2M219.7 1012.2h1.6M221.3 1003.6h1.7M224.2 995.3h0.8M233.5 1010.0h1.1M225.1 1002.8h1.0M234.4 1006.4h1.0M214.7 1001.7h1.1M230.5 1007.8h1.3M217.6 993.7h1.1M219.7 1011.8h1.3M227.3 1014.9h1.0M225.2 993.6h1.5M214.5 1010.5h1.6M231.0 991.8h1.0M228.9 992.2h1.2M223.9 1013.9h1.3M231.7 997.4h1.5M222.8 1013.0h0.9M231.1 995.0h1.3M225.0 993.7h1.5M220.7 997.6h0.9M220.6 1001.6h1.4M221.7 1007.1h0.9" stroke="#640cf0" stroke-width="1.0" opacity="0.75" fill="none"/>
<ellipse cx="220.5" cy="991.7" rx="3.0" ry="2.9" fill="#640cf0" filter="url(#b05)"/>
<path d="M219.6 1020.5h2.1M227.5 1022.7h0.8M219.3 1023.4h1.1M222.6 1020.4h0.8M230.4 1024.4h1.1M223.6 1018.5h1.3M222.2 1018.6h1.2M219.5 1022.9h1.1" stroke="#f1e9fb" stroke-width="1.2" fill="none"/>
<use href="#mouse" transform="translate(236.1 980.0) scale(1.007 0.974)"/>
<path transform="translate(236.1 980.0) scale(1.007 0.974)" d="M13 8 C17.5 8 20.5 12 21.5 18 C23.5 19 25.6 30 25.4 40 C25.2 47 22 52 17.5 53.5 C15 54.3 11 54.3 8.5 53.5 C4 52 .8 47 .6 40 C.4 30 2.5 19 4.5 18 C5.5 12 8.5 8 13 8 Z" fill="#640cf0" filter="url(#b05)"/>
<ellipse cx="250.2" cy="1017.0" rx="13.6" ry="14.6" fill="#640cf0" filter="url(#b05)"/>
<path d="M247.4 1001.1h1.2M259.4 998.5h1.7M249.5 1002.6h0.9M246.4 991.2h1.7M255.5 992.5h1.3M257.6 999.0h0.9M247.8 992.2h1.0M250.7 990.9h2.0M251.0 997.7h1.6M256.5 1002.5h1.3M249.5 996.2h0.8M250.6 1000.6h2.1M256.9 1000.0h1.6M244.4 994.9h1.2M254.6 991.4h1.3M252.3 1002.0h1.9M254.0 992.2h1.8M258.7 998.3h1.3M252.2 992.0h1.7M260.0 997.8h1.7M257.6 992.8h2.0M254.2 992.8h0.9M248.1 998.7h1.7M249.4 1004.2h1.3M251.6 991.7h2.1M246.3 1003.8h1.5M253.2 998.5h1.1M258.8 1005.2h1.9M253.8 991.7h1.9M248.8 1003.7h1.1M253.4 1002.7h1.0M253.0 990.9h0.8M247.0 1005.1h2.0M254.7 994.5h1.7" stroke="#f1e9fb" stroke-width="1.2" fill="none"/>
</g>
<rect x="108.0" y="979.5" width="154.0" height="57.5" fill="#fff" filter="url(#mottle)" style="mix-blend-mode:multiply"/>
<line x1="184.5" y1="979.5" x2="184.5" y2="1037.0" stroke="#eee" stroke-width="1"/>
</g>
<clipPath id="cp3"><rect x="108.8" y="1051.3" width="153.7" height="57.5"/></clipPath>
<g clip-path="url(#cp3)">
<rect x="108.8" y="1051.3" width="153.7" height="57.5" fill="url(#cage)"/>
<rect x="108.8" y="1077.2" width="153.7" height="31.6" fill="#1c1c1c" opacity="0.75"/>
<g filter="url(#rough)">
<use href="#mouse" transform="translate(108.5 1051.8) scale(1.005 0.974)"/>
<ellipse cx="123.6" cy="1087.8" rx="11.6" ry="14.6" fill="#640cf0" filter="url(#b05)"/>
<ellipse cx="127.6" cy="1071.3" rx="6.0" ry="8.8" fill="#640cf0" filter="url(#b05)"/>
<ellipse cx="115.6" cy="1094.7" rx="7.0" ry="6.8" fill="#640cf0" filter="url(#b05)"/>
<path d="M116.2 1090.9h1.6M116.8 1085.2h1.1M113.8 1087.1h1.3M114.7 1087.6h1.5M111.9 1093.8h1.2M115.4 1085.5h1.7M110.9 1099.9h1.6M113.8 1091.3h1.6M115.8 1096.7h1.8M113.9 1100.4h1.9M117.3 1091.3h1.4M114.7 1099.0h1.5M114.3 1091.7h2.0M112.4 1085.8h1.7M117.7 1096.3h1.6M116.3 1089.7h1.6" stroke="#f1e9fb" stroke-width="1.2" fill="none"/>
<use href="#mouse" transform="translate(134.2 1051.8) scale(1.005 0.974)"/>
<path transform="translate(134.2 1051.8) scale(1.005 0.974)" d="M13 3 C17.5 3 20.5 7 21.5 13 C23.5 19 25.6 30 25.4 40 C25.2 47 22 52 17.5 53.5 C15 54.3 11 54.3 8.5 53.5 C4 52 .8 47 .6 40 C.4 30 2.5 19 4.5 13 C5.5 7 8.5 3 13 3 Z" fill="#640cf0" filter="url(#b05)"/>
<path d="M137.5 1080.0h1.4M139.7 1082.2h0.9M140.7 1083.2h1.1" stroke="#f1e9fb" stroke-width="1.2" fill="none"/>
<use href="#mouse" transform="translate(159.8 1051.8) scale(1.005 0.974)"/>
<path transform="translate(159.8 1051.8) scale(1.005 0.974)" d="M13 3.5 C17.5 3.5 20.5 7.5 21.5 13.5 C23.5 19 25.6 30 25.4 40 C25.2 47 22 52 17.5 53.5 C15 54.3 11 54.3 8.5 53.5 C4 52 .8 47 .6 40 C.4 30 2.5 19 4.5 13.5 C5.5 7.5 8.5 3.5 13 3.5 Z" fill="#640cf0" filter="url(#b05)"/>
<path d="M165.6 1085.6h1.1M164.2 1091.7h2.1M167.8 1091.2h1.3M168.7 1083.6h1.8" stroke="#f1e9fb" stroke-width="1.2" fill="none"/>
<use href="#mouse" transform="translate(185.4 1051.8) scale(1.005 0.974)"/>
<path transform="translate(185.4 1051.8) scale(1.005 0.974)" d="M13 3.5 C17.5 3.5 20.5 7.5 21.5 13.5 C23.5 19 25.6 30 25.4 40 C25.2 47 22 52 17.5 53.5 C15 54.3 11 54.3 8.5 53.5 C4 52 .8 47 .6 40 C.4 30 2.5 19 4.5 13.5 C5.5 7.5 8.5 3.5 13 3.5 Z" fill="#640cf0" filter="url(#b05)"/>
<path d="M199.7 1099.6h0.9M203.7 1092.0h1.5M206.6 1090.8h1.1M194.8 1093.9h0.9M205.6 1098.7h1.3M195.9 1096.5h0.9" stroke="#f1e9fb" stroke-width="1.2" fill="none"/>
<use href="#mouse" transform="translate(211.0 1051.8) scale(1.005 0.974)"/>
<path transform="translate(211.0 1051.8) scale(1.005 0.974)" d="M13 6 C17.5 6 20.5 10 21.5 16 C23.5 19 25.6 30 25.4 40 C25.2 47 22 52 17.5 53.5 C15 54.3 11 54.3 8.5 53.5 C4 52 .8 47 .6 40 C.4 30 2.5 19 4.5 16 C5.5 10 8.5 6 13 6 Z" fill="#640cf0" filter="url(#b05)"/>
<path d="M216.6 1075.2h1.2M224.6 1075.8h2.1M224.1 1061.7h1.2M231.8 1075.1h1.1M230.4 1064.5h1.4M219.0 1074.8h2.1M219.5 1070.0h1.0M231.1 1058.6h0.9M228.4 1063.7h2.0M230.9 1071.5h1.0M227.9 1075.9h1.4M217.4 1062.0h1.2M228.2 1061.5h1.0M220.1 1070.6h1.8M222.4 1070.5h1.9M226.1 1062.1h1.2M231.9 1070.6h1.2M227.0 1059.4h2.1M223.6 1067.9h1.5M216.8 1069.3h1.2M220.3 1073.3h0.9M220.9 1072.4h1.1M220.8 1068.3h1.0M231.4 1076.9h0.8M223.9 1072.3h1.3M231.9 1067.4h1.0M225.5 1070.2h1.3M227.3 1072.9h1.5M224.7 1074.1h1.7M224.9 1076.2h1.0M229.4 1060.9h1.6M220.1 1066.2h1.8M229.5 1073.1h1.1M224.4 1062.0h1.6M224.6 1058.3h1.6M228.2 1068.8h1.9M219.1 1060.6h0.8M224.5 1066.1h1.4M220.5 1073.2h0.9M231.5 1068.7h1.5" stroke="#f1e9fb" stroke-width="1.2" fill="none"/>
<use href="#mouse" transform="translate(236.6 1051.8) scale(1.005 0.974)"/>
<path transform="translate(236.6 1051.8) scale(1.005 0.974)" d="M13 2.5 C17.5 2.5 20.5 6.5 21.5 12.5 C23.5 19 25.6 30 25.4 40 C25.2 47 22 52 17.5 53.5 C15 54.3 11 54.3 8.5 53.5 C4 52 .8 47 .6 40 C.4 30 2.5 19 4.5 12.5 C5.5 6.5 8.5 2.5 13 2.5 Z" fill="#640cf0" filter="url(#b05)"/>
<circle cx="246.7" cy="1058.6" r="3.0" fill="#3a22f4" filter="url(#b1)"/>
<circle cx="249.7" cy="1083.9" r="5.5" fill="#3a22f4" filter="url(#b1)"/>
</g>
<rect x="108.8" y="1051.3" width="153.7" height="57.5" fill="#fff" filter="url(#mottle)" style="mix-blend-mode:multiply"/>
</g>
<clipPath id="cp4"><rect x="108.0" y="1123.3" width="154.0" height="57.5"/></clipPath>
<g clip-path="url(#cp4)">
<rect x="108.0" y="1123.3" width="154.0" height="57.5" fill="url(#cage)"/>
<rect x="108.0" y="1149.2" width="154.0" height="31.6" fill="#1c1c1c" opacity="0.75"/>
<g filter="url(#rough)">
<use href="#mouse" transform="translate(107.7 1123.8) scale(1.007 0.974)"/>
<path transform="translate(107.7 1123.8) scale(1.007 0.974)" d="M13 7 C17.5 7 20.5 11 21.5 17 C23.5 19 25.6 30 25.4 40 C25.2 47 22 52 17.5 53.5 C15 54.3 11 54.3 8.5 53.5 C4 52 .8 47 .6 40 C.4 30 2.5 19 4.5 17 C5.5 11 8.5 7 13 7 Z" fill="#640cf0" filter="url(#b05)"/>
<path d="M118.1 1135.4h1.0M114.3 1133.9h1.2M116.8 1137.6h1.1M116.5 1134.2h1.9M113.2 1135.5h1.0M117.3 1140.0h1.8" stroke="#f1e9fb" stroke-width="1.2" fill="none"/>
<path d="M110.1 1156.6h1.3M111.1 1158.8h0.9M112.7 1157.9h2.1M110.6 1156.7h1.8" stroke="#f1e9fb" stroke-width="1.2" fill="none"/>
<use href="#mouse" transform="translate(133.4 1123.8) scale(1.007 0.974)"/>
<path transform="translate(133.4 1123.8) scale(1.007 0.974)" d="M13 2 C17.5 2 20.5 6 21.5 12 C23.5 19 25.6 30 25.4 40 C25.2 47 22 52 17.5 53.5 C15 54.3 11 54.3 8.5 53.5 C4 52 .8 47 .6 40 C.4 30 2.5 19 4.5 12 C5.5 6 8.5 2 13 2 Z" fill="#640cf0" filter="url(#b05)"/>
<circle cx="146.5" cy="1153.0" r="9.1" fill="#3030f4" filter="url(#b1)"/>
<circle cx="146.5" cy="1135.5" r="4.0" fill="#2a70f8" filter="url(#b1)"/>
<circle cx="146.5" cy="1135.5" r="2.2" fill="#40d0ff" filter="url(#b1)"/>
<circle cx="143.5" cy="1156.9" r="3.5" fill="#2a70f8" filter="url(#b1)"/>
<circle cx="138.4" cy="1165.7" r="2.6" fill="#40c8ff" filter="url(#b1)"/>
<circle cx="146.5" cy="1165.7" r="3.0" fill="#38b0ff" filter="url(#b1)"/>
<circle cx="154.6" cy="1166.7" r="2.0" fill="#38b0ff" filter="url(#b1)"/>
<use href="#mouse" transform="translate(159.1 1123.8) scale(1.007 0.974)"/>
<path transform="translate(159.1 1123.8) scale(1.007 0.974)" d="M13 6 C17.5 6 20.5 10 21.5 16 C23.5 19 25.6 30 25.4 40 C25.2 47 22 52 17.5 53.5 C15 54.3 11 54.3 8.5 53.5 C4 52 .8 47 .6 40 C.4 30 2.5 19 4.5 16 C5.5 10 8.5 6 13 6 Z" fill="#640cf0" filter="url(#b05)"/>
<use href="#mouse" transform="translate(184.7 1123.8) scale(1.007 0.974)"/>
<path transform="translate(184.7 1123.8) scale(1.007 0.974)" d="M13 5 C17.5 5 20.5 9 21.5 15 C23.5 19 25.6 30 25.4 40 C25.2 47 22 52 17.5 53.5 C15 54.3 11 54.3 8.5 53.5 C4 52 .8 47 .6 40 C.4 30 2.5 19 4.5 15 C5.5 9 8.5 5 13 5 Z" fill="#640cf0" filter="url(#b05)"/>
<use href="#mouse" transform="translate(210.4 1123.8) scale(1.007 0.974)"/>
<path transform="translate(210.4 1123.8) scale(1.007 0.974)" d="M13 6 C17.5 6 20.5 10 21.5 16 C23.5 19 25.6 30 25.4 40 C25.2 47 22 52 17.5 53.5 C15 54.3 11 54.3 8.5 53.5 C4 52 .8 47 .6 40 C.4 30 2.5 19 4.5 16 C5.5 10 8.5 6 13 6 Z" fill="#640cf0" filter="url(#b05)"/>
<path d="M226.8 1134.9h2.0M227.7 1135.8h1.2M229.9 1134.0h0.8M234.5 1138.0h1.8M228.4 1135.0h1.5" stroke="#f1e9fb" stroke-width="1.2" fill="none"/>
<use href="#mouse" transform="translate(236.1 1123.8) scale(1.007 0.974)"/>
<ellipse cx="250.2" cy="1154.0" rx="3.5" ry="4.9" fill="#640cf0" filter="url(#b05)"/>
<ellipse cx="248.2" cy="1162.8" rx="3.0" ry="2.9" fill="#640cf0" filter="url(#b05)"/>
<path d="M246.8 1157.1h1.6M248.2 1154.4h1.7M250.9 1148.0h1.2M251.3 1148.4h1.1M251.8 1165.7h1.3M253.9 1157.1h1.2M253.5 1155.3h1.5M246.5 1154.6h1.0M250.2 1150.7h1.0M246.5 1157.2h1.1M249.1 1168.5h1.4M253.7 1151.6h1.1M244.9 1162.0h1.1M247.2 1147.6h1.0M247.0 1155.6h1.6M252.1 1152.9h1.1M245.8 1167.3h1.1M252.6 1162.7h1.6M244.4 1154.1h1.1M245.1 1166.1h1.1M252.7 1158.3h0.8M248.5 1152.3h0.8M245.8 1159.9h0.8M247.6 1156.3h1.3M245.6 1162.3h1.0" stroke="#640cf0" stroke-width="1.0" opacity="0.75" fill="none"/>
</g>
<rect x="108.0" y="1123.3" width="154.0" height="57.5" fill="#fff" filter="url(#mottle)" style="mix-blend-mode:multiply"/>
</g>
<clipPath id="cp5"><rect x="291.0" y="907.0" width="152.7" height="58.2"/></clipPath>
<g clip-path="url(#cp5)">
<rect x="291.0" y="907.0" width="152.7" height="58.2" fill="url(#cage)"/>
<rect x="291.0" y="933.2" width="152.7" height="32.0" fill="#1c1c1c" opacity="0.75"/>
<g filter="url(#rough)">
<use href="#mouse" transform="translate(290.7 907.5) scale(0.998 0.986)"/>
<ellipse cx="299.7" cy="959.8" rx="3.0" ry="3.0" fill="#640cf0" filter="url(#b05)"/>
<path d="M306.0 940.4h0.9M300.8 932.8h1.4M302.8 934.8h1.6M301.0 933.0h1.1M300.9 928.0h0.8" stroke="#640cf0" stroke-width="1.0" opacity="0.75" fill="none"/>
<use href="#mouse" transform="translate(316.2 907.5) scale(0.998 0.986)"/>
<ellipse cx="321.2" cy="937.1" rx="2.6" ry="2.4" fill="#640cf0" filter="url(#b05)"/>
<path d="M324.9 943.2h1.5M328.0 938.4h1.4M327.4 937.0h1.4M325.2 950.1h1.6M321.3 944.4h0.9M323.0 940.1h0.9M322.6 939.0h1.2M321.7 936.0h1.2M323.5 936.1h1.4M321.3 934.8h1.1M323.0 935.8h1.3M325.5 943.0h1.4" stroke="#640cf0" stroke-width="1.0" opacity="0.75" fill="none"/>
<use href="#mouse" transform="translate(341.6 907.5) scale(0.998 0.986)"/>
<path d="M347.0 939.7h1.1M347.7 939.9h0.8M355.0 943.9h1.2M352.2 936.7h0.8M352.5 950.5h1.3M351.1 945.7h1.0M354.6 944.5h1.7M352.8 943.7h1.6M359.7 944.8h1.4M353.6 940.2h1.0M360.7 950.3h1.1M362.1 932.0h0.9M355.2 937.9h1.1M363.2 934.4h1.0M350.5 945.9h1.0M346.7 943.0h1.2M350.7 941.9h1.4M355.9 944.7h1.3M360.7 952.2h1.1M352.5 950.4h1.1M358.8 946.3h1.4M363.0 949.1h0.9M357.2 941.8h1.3M352.9 937.4h1.5M355.7 936.3h1.0M352.2 935.0h1.3M348.8 932.5h0.9M348.4 946.5h0.9M354.3 947.9h1.2M349.4 950.0h1.6M347.5 936.7h1.3M360.2 939.7h1.4M350.9 946.7h1.1M352.3 947.6h1.6M360.7 943.5h1.2M358.6 944.7h1.5M360.2 933.9h1.1M358.0 936.2h1.0M346.9 943.9h1.6M363.1 934.1h1.4" stroke="#640cf0" stroke-width="1.0" opacity="0.75" fill="none"/>
<ellipse cx="353.6" cy="956.8" rx="4.0" ry="3.9" fill="#640cf0" filter="url(#b05)"/>
<use href="#mouse" transform="translate(367.1 907.5) scale(0.998 0.986)"/>
<ellipse cx="381.1" cy="911.4" rx="3.5" ry="3.0" fill="#640cf0" filter="url(#b05)"/>
<ellipse cx="371.1" cy="938.1" rx="2.0" ry="2.4" fill="#640cf0" filter="url(#b05)"/>
<path d="M378.9 947.1h1.2M386.1 952.7h0.8M383.1 939.0h0.8M377.1 948.6h1.7M374.8 942.3h0.8M380.7 944.7h1.1M377.4 949.7h1.6M377.1 943.3h1.4" stroke="#640cf0" stroke-width="1.0" opacity="0.75" fill="none"/>
<ellipse cx="378.1" cy="960.8" rx="3.0" ry="2.0" fill="#640cf0" filter="url(#b05)"/>
<use href="#mouse" transform="translate(392.5 907.5) scale(0.998 0.986)"/>
<path d="M409.2 952.5h1.2M408.2 944.8h1.5M400.6 938.2h0.9M411.6 939.6h1.2M400.2 940.9h0.8M406.4 937.7h1.4M402.4 939.2h1.2M403.6 939.7h0.8M399.4 951.0h1.1M399.6 938.4h1.2M412.5 938.7h1.6M405.3 942.5h1.5M404.1 936.1h1.3M407.7 946.2h1.0M411.7 950.5h1.7M404.7 949.9h1.5M401.0 935.6h1.0M400.2 936.4h1.1M409.1 940.6h1.3M398.7 938.8h1.7M398.7 944.5h1.5M409.6 948.2h1.2M409.8 949.8h1.5M412.3 936.9h1.7M404.2 947.6h1.0M411.3 935.5h1.3M401.7 942.0h1.1M407.7 949.5h1.1M407.5 941.4h1.1M411.2 940.8h0.9M403.2 948.3h1.0M408.9 944.8h1.4M401.0 937.0h0.9M403.4 942.8h0.8M405.6 942.3h1.1M406.0 952.0h1.0M410.8 940.8h1.5M400.1 952.6h1.2M412.0 939.0h1.2M408.4 938.3h1.0M408.0 951.9h1.1M401.1 941.5h1.7M400.6 946.4h1.1M407.5 938.9h1.4M410.9 950.3h1.4M405.6 945.2h0.9M410.2 947.4h1.2M407.8 942.6h1.1M401.8 945.8h1.3M405.7 935.7h1.4" stroke="#640cf0" stroke-width="1.0" opacity="0.75" fill="none"/>
<ellipse cx="405.5" cy="957.8" rx="5.5" ry="4.9" fill="#640cf0" filter="url(#b05)"/>
<use href="#mouse" transform="translate(418.0 907.5) scale(0.998 0.986)"/>
<path d="M430.4 929.1h1.3M435.3 920.4h1.2M435.9 931.9h1.1M433.3 936.9h1.2" stroke="#640cf0" stroke-width="1.0" opacity="0.75" fill="none"/>
</g>
<rect x="291.0" y="907.0" width="152.7" height="58.2" fill="#fff" filter="url(#mottle)" style="mix-blend-mode:multiply"/>
</g>
<clipPath id="cp6"><rect x="291.0" y="979.7" width="152.0" height="57.9"/></clipPath>
<g clip-path="url(#cp6)">
<rect x="291.0" y="979.7" width="152.0" height="57.9" fill="url(#cage)"/>
<rect x="291.0" y="1005.8" width="152.0" height="31.8" fill="#1c1c1c" opacity="0.75"/>
<g filter="url(#rough)">
<use href="#mouse" transform="translate(290.7 980.2) scale(0.994 0.981)"/>
<ellipse cx="293.7" cy="1031.2" rx="3.5" ry="2.9" fill="#640cf0" filter="url(#b05)"/>
<path d="M305.6 1006.7h1.7M302.6 1007.5h1.6M303.9 1013.1h1.5M305.0 1009.7h1.7M299.2 1012.5h1.4" stroke="#640cf0" stroke-width="1.0" opacity="0.75" fill="none"/>
<use href="#mouse" transform="translate(316.1 980.2) scale(0.994 0.981)"/>
<ellipse cx="329.0" cy="983.6" rx="3.3" ry="2.9" fill="#640cf0" filter="url(#b05)"/>
<use href="#mouse" transform="translate(341.4 980.2) scale(0.994 0.981)"/>
<ellipse cx="345.4" cy="1021.4" rx="3.5" ry="2.9" fill="#640cf0" filter="url(#b05)"/>
<ellipse cx="353.3" cy="1015.5" rx="3.5" ry="2.9" fill="#640cf0" filter="url(#b05)"/>
<ellipse cx="355.3" cy="1029.3" rx="3.0" ry="3.9" fill="#640cf0" filter="url(#b05)"/>
<path d="M347.4 1028.3h1.2M351.9 1029.7h1.0M347.8 1024.1h0.9M352.2 1027.7h1.2M347.2 1028.1h1.6M355.7 1021.7h1.6M356.1 1011.5h1.1M345.0 1008.6h1.1M357.2 1028.9h0.9M346.3 1017.6h1.6M353.2 1030.7h0.9M359.1 1012.9h1.4M357.3 1026.2h1.0M354.0 1018.7h0.8M348.8 1015.7h1.4M347.8 1023.1h1.4M346.3 1010.9h1.4M350.8 1011.0h0.9M358.4 1023.2h1.1M346.5 1033.0h1.4M355.1 1016.9h1.1M349.9 1011.4h1.4M350.2 1028.6h1.2M350.7 1020.6h1.6M348.9 1025.6h1.0M352.6 1014.9h1.6M348.0 1029.5h1.4M350.6 1031.5h1.1M355.2 1023.0h1.2M344.4 1018.4h1.1" stroke="#640cf0" stroke-width="1.0" opacity="0.75" fill="none"/>
<path d="M353.1 991.7h1.1M354.1 990.0h1.0M353.0 986.9h1.6M352.4 988.6h1.1M354.6 991.1h1.3M353.5 986.7h1.6" stroke="#640cf0" stroke-width="1.0" opacity="0.75" fill="none"/>
<use href="#mouse" transform="translate(366.7 980.2) scale(0.994 0.981)"/>
<ellipse cx="375.7" cy="1015.5" rx="5.5" ry="4.4" fill="#640cf0" filter="url(#b05)"/>
<path d="M372.1 1013.4h1.1M382.2 1018.2h1.1M385.0 1022.6h0.8M380.8 1015.0h1.1M378.1 1012.6h1.4M380.4 1022.9h1.7M386.5 1013.9h1.5M381.1 1018.7h1.7M371.8 1014.9h1.2M381.2 1011.1h1.7M374.1 1013.5h0.9M377.0 1019.3h0.9M373.4 1017.9h1.4M382.5 1011.6h1.5" stroke="#640cf0" stroke-width="1.0" opacity="0.75" fill="none"/>
<use href="#mouse" transform="translate(392.1 980.2) scale(0.994 0.981)"/>
<ellipse cx="403.0" cy="1017.5" rx="5.5" ry="3.9" fill="#640cf0" filter="url(#b05)"/>
<path d="M409.1 1010.0h0.9M404.4 998.1h1.6M413.0 1011.9h0.8M402.3 1006.3h1.3M398.0 1010.2h1.1M405.1 999.8h1.3M398.4 999.2h1.3M401.3 1010.1h1.0M403.5 998.7h1.0M404.1 1006.6h1.2M411.3 999.5h1.6M398.8 1013.1h1.3M403.3 1007.5h1.6M413.3 1004.3h0.8" stroke="#640cf0" stroke-width="1.0" opacity="0.75" fill="none"/>
<ellipse cx="417.9" cy="1017.5" rx="1.5" ry="2.0" fill="#640cf0" filter="url(#b05)"/>
<use href="#mouse" transform="translate(417.4 980.2) scale(0.994 0.981)"/>
<path d="M424.9 1017.7h1.5M430.5 1011.2h1.3M423.7 1010.7h1.1" stroke="#640cf0" stroke-width="1.0" opacity="0.75" fill="none"/>
</g>
<rect x="291.0" y="979.7" width="152.0" height="57.9" fill="#fff" filter="url(#mottle)" style="mix-blend-mode:multiply"/>
<line x1="365.5" y1="979.7" x2="365.5" y2="1037.6" stroke="#eee" stroke-width="1"/>
</g>
<clipPath id="cp7"><rect x="291.7" y="1050.4" width="25.5" height="57.3"/></clipPath>
<g clip-path="url(#cp7)">
<rect x="291.7" y="1050.4" width="25.5" height="57.3" fill="url(#cage)"/>
<rect x="291.7" y="1076.2" width="25.5" height="31.5" fill="#1c1c1c" opacity="0.75"/>
<g filter="url(#rough)">
<use href="#mouse" transform="translate(291.4 1050.9) scale(1.000 0.971)"/>
<path transform="translate(291.4 1050.9) scale(1.000 0.971)" d="M13 6 C17.5 6 20.5 10 21.5 16 C23.5 19 25.6 30 25.4 40 C25.2 47 22 52 17.5 53.5 C15 54.3 11 54.3 8.5 53.5 C4 52 .8 47 .6 40 C.4 30 2.5 19 4.5 16 C5.5 10 8.5 6 13 6 Z" fill="#640cf0" filter="url(#b05)"/>
<path d="M313.8 1068.8h1.9M295.4 1066.6h0.9M299.7 1063.6h2.0M301.0 1067.3h1.7M312.2 1071.7h1.5M304.5 1071.3h1.3M300.4 1069.7h1.1M301.8 1066.7h1.4M301.6 1066.7h1.4M295.4 1070.7h0.9M305.0 1067.9h1.3M298.9 1063.5h1.3M300.7 1067.2h1.1M309.4 1067.3h0.8M302.6 1071.9h0.8M306.3 1071.9h1.3M306.4 1066.1h1.2M306.6 1068.3h1.2M304.4 1067.6h1.8M295.5 1063.4h1.1M299.9 1070.3h1.4M311.7 1066.5h1.2M308.0 1063.4h2.1M311.1 1065.7h1.2M310.8 1070.2h1.6M295.6 1070.0h0.9M306.9 1067.9h2.0M307.2 1062.8h2.0M309.5 1068.2h0.8M309.2 1066.6h1.7M314.1 1071.4h0.9M310.1 1066.8h1.8M302.0 1066.9h1.4M296.8 1065.7h1.8M295.9 1063.7h1.9M307.8 1067.9h0.9M296.8 1065.6h2.0M305.7 1071.5h1.1M302.7 1067.8h1.9M296.9 1071.0h1.4M295.1 1066.7h1.3M307.9 1071.6h1.4M308.2 1066.3h1.8M296.6 1069.8h1.0M306.2 1064.5h1.3M297.7 1065.9h1.6M304.8 1066.3h1.5M311.3 1066.0h1.6M304.1 1072.1h1.2M308.4 1064.8h1.1M309.1 1068.1h1.1M295.7 1070.6h1.3M308.8 1066.7h1.6M305.6 1072.0h2.0M303.6 1067.3h1.1" stroke="#f1e9fb" stroke-width="1.2" fill="none"/>
<circle cx="304.4" cy="1087.8" r="4.0" fill="#3a28f6" filter="url(#b1)"/>
<circle cx="304.4" cy="1087.8" r="1.8" fill="#3c6cff" filter="url(#b1)"/>
<path d="M309.0 1096.1h1.2M310.7 1095.8h1.7M305.7 1098.8h1.2M298.2 1101.1h1.8M310.0 1096.1h1.8M299.4 1096.7h1.5M306.4 1096.3h1.8M305.9 1100.8h2.0" stroke="#f1e9fb" stroke-width="1.2" fill="none"/>
</g>
<rect x="291.7" y="1050.4" width="25.5" height="57.3" fill="#fff" filter="url(#mottle)" style="mix-blend-mode:multiply"/>
</g>
<clipPath id="cp8"><rect x="318.4" y="1050.4" width="22.4" height="57.3"/></clipPath>
<g clip-path="url(#cp8)">
<rect x="318.4" y="1050.4" width="22.4" height="57.3" fill="url(#cage)"/>
<rect x="318.4" y="1076.2" width="22.4" height="31.5" fill="#1c1c1c" opacity="0.75"/>
<g filter="url(#rough)">
<use href="#mouse" transform="translate(318.2 1050.9) scale(0.879 0.971)"/>
<path transform="translate(318.2 1050.9) scale(0.879 0.971)" d="M13 12 C17.5 12 20.5 16 21.5 22 C23.5 19 25.6 30 25.4 40 C25.2 47 22 52 17.5 53.5 C15 54.3 11 54.3 8.5 53.5 C4 52 .8 47 .6 40 C.4 30 2.5 19 4.5 22 C5.5 16 8.5 12 13 12 Z" fill="#640cf0" filter="url(#b05)"/>
<path d="M332.6 1066.4h2.0M333.1 1064.9h1.9M333.2 1064.3h1.1M322.0 1070.1h1.1M326.3 1064.1h1.0M329.4 1064.5h1.2M326.1 1069.5h1.9M324.2 1077.0h1.9M331.3 1070.3h1.8M330.1 1072.8h2.0M334.0 1064.2h0.9M336.5 1066.4h1.8M325.4 1068.3h1.3M333.2 1078.8h1.5M330.6 1066.1h1.1M336.7 1061.0h2.0M332.1 1060.2h2.0M323.3 1070.7h1.0M337.3 1065.3h1.9M322.7 1072.9h0.9M322.2 1070.9h2.1M332.5 1076.9h1.8M329.9 1060.3h1.5M324.6 1069.9h1.3M329.6 1062.9h1.7M328.3 1069.0h0.9M329.4 1070.6h2.1M330.6 1061.5h1.2M327.0 1073.7h2.0M337.1 1079.0h2.0M335.3 1078.6h0.8M329.4 1071.3h1.7M331.4 1071.8h2.0M323.1 1069.8h2.0M322.2 1061.1h1.9M336.8 1059.2h0.8M334.8 1073.4h1.5M330.9 1074.8h1.9M321.7 1060.1h1.8M337.1 1076.5h1.3M327.0 1066.1h0.8M333.9 1064.3h1.6M330.0 1065.8h1.7M328.9 1063.7h1.9M324.5 1061.9h1.1M329.3 1075.4h1.2M325.5 1072.6h1.1M330.0 1064.1h1.9M324.6 1063.6h1.2M326.9 1074.2h1.7M334.2 1070.2h0.9M333.8 1063.9h1.1M328.2 1079.8h1.3M327.3 1078.1h2.1M327.8 1061.6h1.8M334.1 1065.9h1.8M327.7 1064.8h1.6M333.4 1068.8h1.9M321.9 1069.3h1.3M322.7 1078.2h1.0M324.9 1077.4h2.0M336.4 1066.0h2.0M323.9 1073.9h2.0M324.7 1061.6h1.7M335.7 1074.2h2.0M328.9 1066.6h1.0M326.0 1078.7h0.9M324.6 1066.1h0.9M326.5 1062.6h1.0M330.0 1070.2h1.5" stroke="#f1e9fb" stroke-width="1.2" fill="none"/>
<path d="M332.4 1098.6h2.0M322.8 1096.9h0.9M326.0 1100.0h2.0M328.8 1096.5h1.2M329.7 1097.3h1.8M335.4 1098.2h1.6" stroke="#f1e9fb" stroke-width="1.2" fill="none"/>
</g>
<rect x="318.4" y="1050.4" width="22.4" height="57.3" fill="#fff" filter="url(#mottle)" style="mix-blend-mode:multiply"/>
</g>
<clipPath id="cp9"><rect x="368.8" y="1050.4" width="27.1" height="57.3"/></clipPath>
<g clip-path="url(#cp9)">
<rect x="368.8" y="1050.4" width="27.1" height="57.3" fill="url(#cage)"/>
<rect x="368.8" y="1076.2" width="27.1" height="31.5" fill="#1c1c1c" opacity="0.75"/>
<g filter="url(#rough)">
<use href="#mouse" transform="translate(368.5 1050.9) scale(1.063 0.971)"/>
<ellipse cx="380.8" cy="1080.0" rx="8.0" ry="8.7" fill="#640cf0" filter="url(#b05)"/>
<ellipse cx="376.0" cy="1089.7" rx="4.3" ry="3.9" fill="#640cf0" filter="url(#b05)"/>
<ellipse cx="382.3" cy="1096.5" rx="2.7" ry="2.9" fill="#640cf0" filter="url(#b05)"/>
<path d="M382.1 1076.9h1.0M382.9 1079.9h0.8M381.4 1076.5h0.9M376.3 1075.2h1.8M376.7 1074.3h1.1" stroke="#f1e9fb" stroke-width="1.2" fill="none"/>
</g>
<rect x="368.8" y="1050.4" width="27.1" height="57.3" fill="#fff" filter="url(#mottle)" style="mix-blend-mode:multiply"/>
</g>
<clipPath id="cp10"><rect x="397.1" y="1050.4" width="23.6" height="57.3"/></clipPath>
<g clip-path="url(#cp10)">
<rect x="397.1" y="1050.4" width="23.6" height="57.3" fill="url(#cage)"/>
<rect x="397.1" y="1076.2" width="23.6" height="31.5" fill="#1c1c1c" opacity="0.75"/>
<g filter="url(#rough)">
<use href="#mouse" transform="translate(396.9 1050.9) scale(0.926 0.971)"/>
<ellipse cx="408.9" cy="1055.8" rx="4.2" ry="3.4" fill="#640cf0" filter="url(#b05)"/>
<ellipse cx="408.9" cy="1081.0" rx="11.1" ry="6.3" fill="#640cf0" filter="url(#b05)"/>
<ellipse cx="402.4" cy="1076.1" rx="3.7" ry="3.9" fill="#640cf0" filter="url(#b05)"/>
<ellipse cx="415.4" cy="1083.9" rx="3.7" ry="4.9" fill="#640cf0" filter="url(#b05)"/>
</g>
<rect x="397.1" y="1050.4" width="23.6" height="57.3" fill="#fff" filter="url(#mottle)" style="mix-blend-mode:multiply"/>
</g>
<clipPath id="cp11"><rect x="422.3" y="1050.4" width="22.1" height="57.3"/></clipPath>
<g clip-path="url(#cp11)">
<rect x="422.3" y="1050.4" width="22.1" height="57.3" fill="url(#cage)"/>
<rect x="422.3" y="1076.2" width="22.1" height="31.5" fill="#1c1c1c" opacity="0.75"/>
<g filter="url(#rough)">
<use href="#mouse" transform="translate(422.1 1050.9) scale(0.867 0.971)"/>
<ellipse cx="434.2" cy="1062.5" rx="7.8" ry="6.8" fill="#640cf0" filter="url(#b05)"/>
<ellipse cx="430.7" cy="1077.1" rx="3.0" ry="3.4" fill="#640cf0" filter="url(#b05)"/>
<ellipse cx="432.5" cy="1090.7" rx="3.0" ry="3.4" fill="#640cf0" filter="url(#b05)"/>
<ellipse cx="441.2" cy="1087.8" rx="2.2" ry="5.8" fill="#640cf0" filter="url(#b05)"/>
<path d="M438.0 1083.9h1.4M432.8 1075.3h0.8M430.3 1071.4h1.0M435.2 1080.4h1.2M435.3 1078.9h1.1M439.3 1086.1h1.2M434.0 1082.8h1.1M439.8 1076.7h1.6M438.9 1094.3h0.9M433.5 1097.1h1.1M428.2 1090.0h1.0M434.7 1074.6h1.7M430.0 1072.9h1.4M431.0 1085.5h1.2M439.9 1084.3h1.1M425.6 1083.8h1.0M434.5 1087.5h1.2M427.0 1083.8h1.2M435.6 1096.7h1.1M432.5 1072.6h1.5" stroke="#640cf0" stroke-width="1.0" opacity="0.75" fill="none"/>
</g>
<rect x="422.3" y="1050.4" width="22.1" height="57.3" fill="#fff" filter="url(#mottle)" style="mix-blend-mode:multiply"/>
</g>
<rect x="342.0" y="1050.4" width="26.2" height="57.3" fill="#000"/>
<clipPath id="cp12"><rect x="290.0" y="1122.8" width="21.5" height="57.9"/></clipPath>
<g clip-path="url(#cp12)">
<rect x="290.0" y="1122.8" width="21.5" height="57.9" fill="url(#cage)"/>
<rect x="290.0" y="1148.9" width="21.5" height="31.8" fill="#1c1c1c" opacity="0.75"/>
<g filter="url(#rough)">
<use href="#mouse" transform="translate(289.8 1123.3) scale(0.843 0.981)"/>
<path transform="translate(289.8 1123.3) scale(0.843 0.981)" d="M13 5 C17.5 5 20.5 9 21.5 15 C23.5 19 25.6 30 25.4 40 C25.2 47 22 52 17.5 53.5 C15 54.3 11 54.3 8.5 53.5 C4 52 .8 47 .6 40 C.4 30 2.5 19 4.5 15 C5.5 9 8.5 5 13 5 Z" fill="#640cf0" filter="url(#b05)"/>
<path d="M297.0 1145.4h1.8M297.2 1145.6h1.5M299.4 1144.6h2.0M300.2 1144.3h1.2M304.6 1144.4h1.2M296.5 1143.6h1.9" stroke="#f1e9fb" stroke-width="1.2" fill="none"/>
<circle cx="300.8" cy="1161.6" r="3.8" fill="#3a28f6" filter="url(#b1)"/>
<circle cx="300.8" cy="1161.6" r="1.7" fill="#3c5cff" filter="url(#b1)"/>
</g>
<rect x="290.0" y="1122.8" width="21.5" height="57.9" fill="#fff" filter="url(#mottle)" style="mix-blend-mode:multiply"/>
</g>
<clipPath id="cp13"><rect x="313.7" y="1122.8" width="20.5" height="57.9"/></clipPath>
<g clip-path="url(#cp13)">
<rect x="313.7" y="1122.8" width="20.5" height="57.9" fill="url(#cage)"/>
<rect x="313.7" y="1148.9" width="20.5" height="31.8" fill="#1c1c1c" opacity="0.75"/>
<g filter="url(#rough)">
<use href="#mouse" transform="translate(313.5 1123.3) scale(0.804 0.981)"/>
<path transform="translate(313.5 1123.3) scale(0.804 0.981)" d="M13 16 C17.5 16 20.5 20 21.5 26 C23.5 19 25.6 30 25.4 40 C25.2 47 22 52 17.5 53.5 C15 54.3 11 54.3 8.5 53.5 C4 52 .8 47 .6 40 C.4 30 2.5 19 4.5 26 C5.5 20 8.5 16 13 16 Z" fill="#640cf0" filter="url(#b05)"/>
<path d="M327.9 1152.3h2.0M326.3 1148.4h1.7M327.9 1148.4h1.0M328.0 1137.7h1.1M329.3 1131.6h1.5M321.9 1148.2h1.6M329.2 1151.3h1.6M318.3 1145.5h0.9M330.2 1150.0h1.2M319.9 1146.1h1.8M330.2 1144.6h1.0M326.9 1132.4h1.9M327.4 1148.1h1.9M324.8 1151.5h1.6M323.8 1139.4h1.3M317.8 1134.6h1.8M320.5 1145.3h1.8M326.5 1142.3h1.2M321.0 1135.2h1.6M326.3 1151.5h1.2M329.4 1150.8h1.2M329.8 1144.5h2.1M327.5 1138.3h1.2M324.2 1141.7h0.8M328.6 1142.7h1.4M327.1 1136.5h1.1M325.0 1136.4h1.2M318.4 1132.3h1.3M324.3 1151.6h1.6M322.8 1139.9h1.1M323.6 1151.8h1.0M323.1 1145.9h1.8M324.7 1145.0h2.0M329.1 1136.6h1.5M330.3 1142.5h1.0M327.4 1132.4h1.0M324.6 1137.0h1.7M326.9 1138.0h1.8M325.9 1146.4h1.4M323.1 1133.4h1.4M329.8 1150.3h0.9M318.4 1137.0h1.7M323.1 1133.9h1.4M324.9 1147.2h1.3M325.9 1145.9h1.6M318.1 1146.5h1.0M318.2 1141.4h0.8M318.5 1139.6h1.4M318.9 1151.7h1.9M323.8 1143.8h1.2M330.2 1133.7h1.2M320.4 1149.8h1.5M322.8 1139.8h2.0M320.8 1148.2h1.7M323.3 1139.0h1.4M323.3 1138.0h1.6M322.8 1137.7h1.8M323.4 1141.4h1.9M323.4 1139.3h2.0M330.1 1148.1h1.3" stroke="#f1e9fb" stroke-width="1.2" fill="none"/>
<ellipse cx="323.9" cy="1162.5" rx="8.8" ry="9.8" fill="#640cf0" filter="url(#b05)"/>
</g>
<rect x="313.7" y="1122.8" width="20.5" height="57.9" fill="#fff" filter="url(#mottle)" style="mix-blend-mode:multiply"/>
</g>
<clipPath id="cp14"><rect x="366.0" y="1122.8" width="24.8" height="57.9"/></clipPath>
<g clip-path="url(#cp14)">
<rect x="366.0" y="1122.8" width="24.8" height="57.9" fill="url(#cage)"/>
<rect x="366.0" y="1148.9" width="24.8" height="31.8" fill="#1c1c1c" opacity="0.75"/>
<g filter="url(#rough)">
<use href="#mouse" transform="translate(365.8 1123.3) scale(0.973 0.981)"/>
<path transform="translate(365.8 1123.3) scale(0.973 0.981)" d="M13 6 C17.5 6 20.5 10 21.5 16 C23.5 19 25.6 30 25.4 40 C25.2 47 22 52 17.5 53.5 C15 54.3 11 54.3 8.5 53.5 C4 52 .8 47 .6 40 C.4 30 2.5 19 4.5 16 C5.5 10 8.5 6 13 6 Z" fill="#640cf0" filter="url(#b05)"/>
<path d="M380.1 1137.0h1.2M380.6 1138.6h1.7M380.0 1134.6h1.6M375.7 1137.2h1.5M383.1 1133.8h1.7M373.7 1134.4h1.8M376.1 1136.0h1.1M377.4 1138.9h1.1" stroke="#f1e9fb" stroke-width="1.2" fill="none"/>
<path d="M374.9 1166.8h1.6M374.3 1171.4h1.3M372.7 1170.7h1.8M373.8 1169.9h1.1M373.5 1169.8h1.5" stroke="#f1e9fb" stroke-width="1.2" fill="none"/>
</g>
<rect x="366.0" y="1122.8" width="24.8" height="57.9" fill="#fff" filter="url(#mottle)" style="mix-blend-mode:multiply"/>
</g>
<clipPath id="cp15"><rect x="392.7" y="1122.8" width="25.8" height="57.9"/></clipPath>
<g clip-path="url(#cp15)">
<rect x="392.7" y="1122.8" width="25.8" height="57.9" fill="url(#cage)"/>
<rect x="392.7" y="1148.9" width="25.8" height="31.8" fill="#1c1c1c" opacity="0.75"/>
<g filter="url(#rough)">
<use href="#mouse" transform="translate(392.4 1123.3) scale(1.012 0.981)"/>
<path transform="translate(392.4 1123.3) scale(1.012 0.981)" d="M13 4 C17.5 4 20.5 8 21.5 14 C23.5 19 25.6 30 25.4 40 C25.2 47 22 52 17.5 53.5 C15 54.3 11 54.3 8.5 53.5 C4 52 .8 47 .6 40 C.4 30 2.5 19 4.5 14 C5.5 8 8.5 4 13 4 Z" fill="#640cf0" filter="url(#b05)"/>
<ellipse cx="405.6" cy="1158.6" rx="14.2" ry="15.7" fill="#640cf0" filter="url(#b05)"/>
</g>
<rect x="392.7" y="1122.8" width="25.8" height="57.9" fill="#fff" filter="url(#mottle)" style="mix-blend-mode:multiply"/>
</g>
<clipPath id="cp16"><rect x="420.0" y="1122.8" width="24.4" height="57.9"/></clipPath>
<g clip-path="url(#cp16)">
<rect x="420.0" y="1122.8" width="24.4" height="57.9" fill="url(#cage)"/>
<rect x="420.0" y="1148.9" width="24.4" height="31.8" fill="#1c1c1c" opacity="0.75"/>
<g filter="url(#rough)">
<use href="#mouse" transform="translate(419.8 1123.3) scale(0.957 0.981)"/>
<ellipse cx="434.1" cy="1135.1" rx="8.6" ry="6.9" fill="#640cf0" filter="url(#b05)"/>
<ellipse cx="427.4" cy="1152.7" rx="4.8" ry="5.9" fill="#640cf0" filter="url(#b05)"/>
<ellipse cx="440.8" cy="1162.5" rx="2.9" ry="7.8" fill="#640cf0" filter="url(#b05)"/>
<ellipse cx="427.4" cy="1168.4" rx="3.8" ry="2.9" fill="#640cf0" filter="url(#b05)"/>
<path d="M441.5 1146.9h1.5M428.8 1164.3h1.7M427.9 1159.6h1.3M432.1 1147.8h1.4M439.7 1162.4h1.1M438.1 1155.3h0.9M434.2 1156.5h1.3M441.6 1159.7h1.7M429.4 1165.3h0.9M428.4 1163.3h1.4M438.5 1154.1h1.0M429.5 1158.7h0.8M429.8 1162.3h0.9M428.6 1168.6h1.6M427.4 1148.2h0.9M424.3 1166.3h1.5M427.7 1157.3h1.4M423.2 1167.0h1.6M426.7 1163.6h1.4M429.1 1168.8h1.0M431.7 1152.2h1.2M438.2 1159.7h1.3M441.5 1149.5h1.0M434.5 1147.3h1.7M429.2 1155.9h1.2M438.5 1169.9h1.4M425.9 1153.4h1.4M426.8 1168.9h1.6M427.0 1153.6h1.0M436.4 1144.3h1.4M423.8 1167.7h1.3M433.8 1145.7h0.8M429.4 1171.9h1.3M439.1 1144.8h0.9M423.0 1163.4h1.0M427.8 1162.6h1.4M428.8 1156.7h1.1M433.4 1153.4h1.1M427.4 1151.5h1.0M422.9 1152.1h1.3M427.8 1146.2h1.6M431.6 1158.0h1.1M439.6 1165.1h1.4M435.3 1163.3h1.3M430.5 1154.4h1.3M431.6 1158.5h1.3M437.7 1169.2h1.0M423.1 1151.8h0.8M437.9 1161.2h1.1M426.3 1168.5h1.6" stroke="#640cf0" stroke-width="1.0" opacity="0.75" fill="none"/>
<ellipse cx="435.1" cy="1152.7" rx="2.9" ry="2.9" fill="#640cf0" filter="url(#b05)"/>
</g>
<rect x="420.0" y="1122.8" width="24.4" height="57.9" fill="#fff" filter="url(#mottle)" style="mix-blend-mode:multiply"/>
</g>
<rect x="336.7" y="1122.8" width="27.7" height="57.9" fill="#000"/>
<clipPath id="cp17"><rect x="471.1" y="907.0" width="135.7" height="58.0"/></clipPath>
<g clip-path="url(#cp17)">
<rect x="471.1" y="907.0" width="135.7" height="58.0" fill="url(#cage)"/>
<rect x="471.1" y="933.1" width="135.7" height="31.9" fill="#1c1c1c" opacity="0.75"/>
<g filter="url(#rough)">
<use href="#mouse" transform="translate(470.9 907.5) scale(0.887 0.983)"/>
<use href="#mouse" transform="translate(493.5 907.5) scale(0.887 0.983)"/>
<ellipse cx="504.1" cy="959.6" rx="2.7" ry="2.5" fill="#640cf0" filter="url(#b05)"/>
<use href="#mouse" transform="translate(516.1 907.5) scale(0.887 0.983)"/>
<ellipse cx="518.8" cy="944.8" rx="3.1" ry="6.9" fill="#640cf0" filter="url(#b05)"/>
<path d="M528.8 948.2h1.5M525.1 940.1h1.3M531.9 956.4h1.6M531.2 931.2h1.0M533.4 944.1h1.3M522.8 952.8h1.3M533.7 931.2h1.7M518.1 933.2h1.2M528.1 932.2h1.3M532.9 941.1h1.5M527.3 945.1h1.0M525.3 953.9h1.4M521.3 941.4h1.3M523.3 945.0h1.4M518.2 935.2h1.4M521.3 931.1h1.5M523.2 955.5h1.3M519.5 946.6h1.0M530.9 949.0h1.5M518.8 930.1h1.5M520.1 934.7h0.8M520.5 942.2h1.7M523.0 936.3h1.5M520.8 946.6h1.4M532.8 930.3h1.3M524.0 951.8h1.0M529.3 934.2h1.2M533.3 935.7h1.1M532.5 947.7h0.9M520.9 935.6h1.1M531.4 948.4h1.7M528.6 946.4h1.1M529.3 942.7h0.9M525.7 939.7h1.3M518.7 929.9h1.7M523.8 938.2h0.9M527.3 954.3h1.0M525.9 942.9h1.5M526.9 935.7h1.0M529.5 931.3h1.6M518.4 934.3h1.2M531.4 946.2h1.5M530.0 949.0h0.8M531.1 933.2h0.9M518.5 929.9h1.6" stroke="#640cf0" stroke-width="1.0" opacity="0.75" fill="none"/>
<use href="#mouse" transform="translate(538.7 907.5) scale(0.887 0.983)"/>
<path d="M548.4 927.9h0.8M555.8 944.1h1.6M542.9 928.7h1.1M545.3 928.7h1.0M552.5 930.5h1.0M550.8 937.0h0.9M551.3 941.2h1.1M549.8 926.4h1.4M545.4 935.7h0.8M556.5 943.7h1.2M550.9 954.7h0.9M548.4 947.5h1.1M553.6 953.8h0.8M546.8 934.4h1.5M554.8 947.2h1.6M545.2 937.6h1.6M554.5 928.7h1.7M554.1 952.4h1.1M551.9 955.3h1.6M551.5 953.2h1.7M555.7 945.8h1.7M544.6 937.9h1.3M544.4 949.7h0.9M552.3 934.0h1.1M552.0 931.2h1.2M556.0 956.2h1.0M548.1 947.0h1.0M555.8 931.4h1.3M547.7 925.2h0.8M542.3 935.5h1.0M558.1 945.2h0.9M553.7 932.5h1.2M553.8 952.1h1.6M549.0 935.2h1.2M547.3 948.5h1.2M553.2 930.0h1.5M557.7 931.6h1.4M544.9 926.3h1.2M545.2 948.2h1.3M553.0 955.6h0.9M543.8 926.3h1.2M555.4 946.7h1.3M555.9 936.9h0.9M552.5 926.0h1.0M542.7 930.3h0.9M550.8 929.2h1.3M555.4 936.0h0.9M553.0 948.1h1.6M551.1 943.5h1.6M553.1 955.8h1.1M554.6 945.1h1.2M542.4 940.2h1.0M551.9 941.2h1.3M543.2 929.3h1.3M553.2 956.3h1.5M546.9 939.5h1.3M555.1 937.6h1.6M550.0 937.7h1.2M548.0 956.6h0.8M548.7 927.7h1.4" stroke="#640cf0" stroke-width="1.0" opacity="0.75" fill="none"/>
<use href="#mouse" transform="translate(561.3 907.5) scale(0.887 0.983)"/>
<use href="#mouse" transform="translate(584.0 907.5) scale(0.887 0.983)"/>
<path d="M592.9 934.9h1.2M598.5 950.6h1.2M594.7 940.5h1.6M593.7 931.4h1.6M597.1 934.5h0.9M602.1 950.2h0.9M599.4 936.6h1.2M598.6 932.4h1.6M595.2 934.8h1.5M592.4 932.0h1.4M596.9 954.1h1.5M593.6 932.2h1.3M596.9 938.8h1.6M593.6 947.5h0.9M602.5 955.3h1.4M595.0 949.6h1.6M600.9 932.1h1.3M592.8 945.0h1.7M601.8 937.4h1.3M595.0 935.4h1.5M600.5 939.7h1.2M599.7 949.7h1.2M592.5 933.5h1.0M601.3 943.8h1.4M595.6 940.5h1.0M603.2 946.6h0.9M599.8 946.4h1.4M600.6 946.6h1.6M603.1 941.5h1.4M595.7 941.6h1.1" stroke="#640cf0" stroke-width="1.0" opacity="0.75" fill="none"/>
</g>
<rect x="471.1" y="907.0" width="135.7" height="58.0" fill="#fff" filter="url(#mottle)" style="mix-blend-mode:multiply"/>
<line x1="538.3" y1="907.0" x2="538.3" y2="965.0" stroke="#eee" stroke-width="1"/>
</g>
<clipPath id="cp18"><rect x="470.5" y="979.7" width="136.3" height="57.3"/></clipPath>
<g clip-path="url(#cp18)">
<rect x="470.5" y="979.7" width="136.3" height="57.3" fill="url(#cage)"/>
<rect x="470.5" y="1005.5" width="136.3" height="31.5" fill="#1c1c1c" opacity="0.75"/>
<g filter="url(#rough)">
<use href="#mouse" transform="translate(470.3 980.2) scale(0.891 0.971)"/>
<use href="#mouse" transform="translate(493.0 980.2) scale(0.891 0.971)"/>
<ellipse cx="505.5" cy="984.1" rx="3.2" ry="3.3" fill="#640cf0" filter="url(#b05)"/>
<use href="#mouse" transform="translate(515.7 980.2) scale(0.891 0.971)"/>
<use href="#mouse" transform="translate(538.4 980.2) scale(0.891 0.971)"/>
<path d="M549.0 1003.0h1.1M550.1 1007.4h1.4M550.1 1003.4h1.4" stroke="#640cf0" stroke-width="1.0" opacity="0.75" fill="none"/>
<use href="#mouse" transform="translate(561.1 980.2) scale(0.891 0.971)"/>
<ellipse cx="572.7" cy="984.1" rx="3.0" ry="2.9" fill="#640cf0" filter="url(#b05)"/>
<use href="#mouse" transform="translate(583.9 980.2) scale(0.891 0.971)"/>
<path d="M597.7 1005.3h0.9M600.6 1008.9h1.1M598.4 1004.2h0.9" stroke="#640cf0" stroke-width="1.0" opacity="0.75" fill="none"/>
</g>
<rect x="470.5" y="979.7" width="136.3" height="57.3" fill="#fff" filter="url(#mottle)" style="mix-blend-mode:multiply"/>
<line x1="538.2" y1="979.7" x2="538.2" y2="1037.0" stroke="#eee" stroke-width="1"/>
</g>
<clipPath id="cp19"><rect x="471.1" y="1051.0" width="65.5" height="57.6"/></clipPath>
<g clip-path="url(#cp19)">
<rect x="471.1" y="1051.0" width="65.5" height="57.6" fill="url(#cage)"/>
<rect x="471.1" y="1076.9" width="65.5" height="31.7" fill="#1c1c1c" opacity="0.75"/>
<g filter="url(#rough)">
<use href="#mouse" transform="translate(470.9 1051.5) scale(0.857 0.976)"/>
<use href="#mouse" transform="translate(492.7 1051.5) scale(0.857 0.976)"/>
<ellipse cx="511.1" cy="1088.6" rx="2.6" ry="2.7" fill="#640cf0" filter="url(#b05)"/>
<ellipse cx="509.0" cy="1091.5" rx="1.7" ry="2.0" fill="#640cf0" filter="url(#b05)"/>
<use href="#mouse" transform="translate(514.5 1051.5) scale(0.857 0.976)"/>
<path d="M528.0 1066.1h0.9M524.0 1064.8h1.0M530.4 1060.8h1.2M523.5 1060.2h1.2M524.3 1064.5h0.8M528.0 1065.2h1.1M523.4 1058.5h0.9M529.5 1063.2h0.8M526.1 1063.2h1.1M521.8 1061.5h1.1M531.4 1060.9h1.6M530.3 1063.0h0.9" stroke="#640cf0" stroke-width="1.0" opacity="0.75" fill="none"/>
</g>
<rect x="471.1" y="1051.0" width="65.5" height="57.6" fill="#fff" filter="url(#mottle)" style="mix-blend-mode:multiply"/>
</g>
<clipPath id="cp20"><rect x="540.7" y="1051.0" width="66.1" height="57.6"/></clipPath>
<g clip-path="url(#cp20)">
<rect x="540.7" y="1051.0" width="66.1" height="57.6" fill="url(#cage)"/>
<rect x="540.7" y="1076.9" width="66.1" height="31.7" fill="#1c1c1c" opacity="0.75"/>
<g filter="url(#rough)">
<use href="#mouse" transform="translate(540.5 1051.5) scale(0.864 0.976)"/>
<use href="#mouse" transform="translate(562.5 1051.5) scale(0.864 0.976)"/>
<use href="#mouse" transform="translate(584.5 1051.5) scale(0.864 0.976)"/>
</g>
<rect x="540.7" y="1051.0" width="66.1" height="57.6" fill="#fff" filter="url(#mottle)" style="mix-blend-mode:multiply"/>
</g>
<clipPath id="cp21"><rect x="470.5" y="1122.5" width="136.3" height="58.2"/></clipPath>
<g clip-path="url(#cp21)">
<rect x="470.5" y="1122.5" width="136.3" height="58.2" fill="url(#cage)"/>
<rect x="470.5" y="1148.7" width="136.3" height="32.0" fill="#1c1c1c" opacity="0.75"/>
<g filter="url(#rough)">
<use href="#mouse" transform="translate(470.3 1123.0) scale(0.891 0.986)"/>
<use href="#mouse" transform="translate(493.0 1123.0) scale(0.891 0.986)"/>
<ellipse cx="499.2" cy="1149.6" rx="2.9" ry="2.6" fill="#640cf0" filter="url(#b05)"/>
<ellipse cx="509.9" cy="1154.6" rx="2.9" ry="4.5" fill="#640cf0" filter="url(#b05)"/>
<ellipse cx="508.1" cy="1149.6" rx="1.8" ry="2.0" fill="#640cf0" filter="url(#b05)"/>
<use href="#mouse" transform="translate(515.7 1123.0) scale(0.891 0.986)"/>
<ellipse cx="528.2" cy="1144.7" rx="6.2" ry="4.1" fill="#640cf0" filter="url(#b05)"/>
<ellipse cx="532.6" cy="1148.6" rx="2.7" ry="3.0" fill="#640cf0" filter="url(#b05)"/>
<ellipse cx="521.1" cy="1144.7" rx="1.8" ry="1.5" fill="#640cf0" filter="url(#b05)"/>
<use href="#mouse" transform="translate(538.4 1123.0) scale(0.891 0.986)"/>
<use href="#mouse" transform="translate(561.1 1123.0) scale(0.891 0.986)"/>
<use href="#mouse" transform="translate(583.9 1123.0) scale(0.891 0.986)"/>
</g>
<rect x="470.5" y="1122.5" width="136.3" height="58.2" fill="#fff" filter="url(#mottle)" style="mix-blend-mode:multiply"/>
<line x1="538.2" y1="1122.5" x2="538.2" y2="1180.7" stroke="#eee" stroke-width="1"/>
</g>
<rect x="632.3" y="899.2" width="11.3" height="245.3" fill="url(#cbar)"/>
<line x1="643.6" y1="899.7" x2="649.9" y2="899.7" stroke="#444" stroke-width="0.8"/>
<line x1="643.6" y1="909.5" x2="646.9" y2="909.5" stroke="#444" stroke-width="0.8"/>
<line x1="643.6" y1="919.4" x2="646.9" y2="919.4" stroke="#444" stroke-width="0.8"/>
<line x1="643.6" y1="929.2" x2="646.9" y2="929.2" stroke="#444" stroke-width="0.8"/>
<line x1="643.6" y1="939.1" x2="646.9" y2="939.1" stroke="#444" stroke-width="0.8"/>
<line x1="643.6" y1="948.9" x2="649.9" y2="948.9" stroke="#444" stroke-width="0.8"/>
<line x1="643.6" y1="958.7" x2="646.9" y2="958.7" stroke="#444" stroke-width="0.8"/>
<line x1="643.6" y1="968.6" x2="646.9" y2="968.6" stroke="#444" stroke-width="0.8"/>
<line x1="643.6" y1="978.4" x2="646.9" y2="978.4" stroke="#444" stroke-width="0.8"/>
<line x1="643.6" y1="988.3" x2="646.9" y2="988.3" stroke="#444" stroke-width="0.8"/>
<line x1="643.6" y1="998.1" x2="649.9" y2="998.1" stroke="#444" stroke-width="0.8"/>
<line x1="643.6" y1="1007.9" x2="646.9" y2="1007.9" stroke="#444" stroke-width="0.8"/>
<line x1="643.6" y1="1017.8" x2="646.9" y2="1017.8" stroke="#444" stroke-width="0.8"/>
<line x1="643.6" y1="1027.6" x2="646.9" y2="1027.6" stroke="#444" stroke-width="0.8"/>
<line x1="643.6" y1="1037.5" x2="646.9" y2="1037.5" stroke="#444" stroke-width="0.8"/>
<line x1="643.6" y1="1047.3" x2="649.9" y2="1047.3" stroke="#444" stroke-width="0.8"/>
<line x1="643.6" y1="1057.1" x2="646.9" y2="1057.1" stroke="#444" stroke-width="0.8"/>
<line x1="643.6" y1="1067.0" x2="646.9" y2="1067.0" stroke="#444" stroke-width="0.8"/>
<line x1="643.6" y1="1076.8" x2="646.9" y2="1076.8" stroke="#444" stroke-width="0.8"/>
<line x1="643.6" y1="1086.7" x2="646.9" y2="1086.7" stroke="#444" stroke-width="0.8"/>
<line x1="643.6" y1="1096.5" x2="649.9" y2="1096.5" stroke="#444" stroke-width="0.8"/>
<line x1="643.6" y1="1106.3" x2="646.9" y2="1106.3" stroke="#444" stroke-width="0.8"/>
<line x1="643.6" y1="1116.2" x2="646.9" y2="1116.2" stroke="#444" stroke-width="0.8"/>
<line x1="643.6" y1="1126.0" x2="646.9" y2="1126.0" stroke="#444" stroke-width="0.8"/>
<line x1="643.6" y1="1135.9" x2="646.9" y2="1135.9" stroke="#444" stroke-width="0.8"/>
<text class="mo n" transform="translate(653.3 900.2) scale(0.914 1)" font-size="6.2" fill="#555">1.0</text>
<text class="mo n" transform="translate(653.3 949.2) scale(0.914 1)" font-size="6.2" fill="#555">0.8</text>
<text class="mo n" transform="translate(653.3 998.5) scale(0.914 1)" font-size="6.2" fill="#555">0.6</text>
<text class="mo n" transform="translate(653.3 1047.5) scale(0.914 1)" font-size="6.2" fill="#555">0.4</text>
<text class="mo n" transform="translate(653.3 1097.0) scale(0.914 1)" font-size="6.2" fill="#555">0.2</text>
<text class="mo n" transform="translate(669.8 1022.5) scale(1.120 1)" font-size="6.2" fill="#555">x10</text>
<text class="mo n" transform="translate(683.0 1019.5)" font-size="5" fill="#555">7</text>
<text class="mo" transform="translate(635.7 1153.3) scale(1.119 1)" font-size="6.2" fill="#444">Radiance</text>
<text class="mo" transform="translate(635.7 1158.8) scale(1.129 1)" font-size="6.2" fill="#444">(p/sec/cm²/sr)</text>
<rect x="632.6" y="1163.6" width="56.0" height="22.8" fill="#fff" stroke="#555" stroke-width="0.8"/>
<text class="mo" transform="translate(635.5 1171.2) scale(1.124 1)" font-size="6.2" fill="#444">Color Scale</text>
<text class="mo" transform="translate(635.5 1177.0) scale(1.142 1)" font-size="6.2" fill="#444">Min = 7.00e3</text>
<text class="mo" transform="translate(635.5 1182.8) scale(1.142 1)" font-size="6.2" fill="#444">Max = 1.00e7</text>
</svg></body></html>
